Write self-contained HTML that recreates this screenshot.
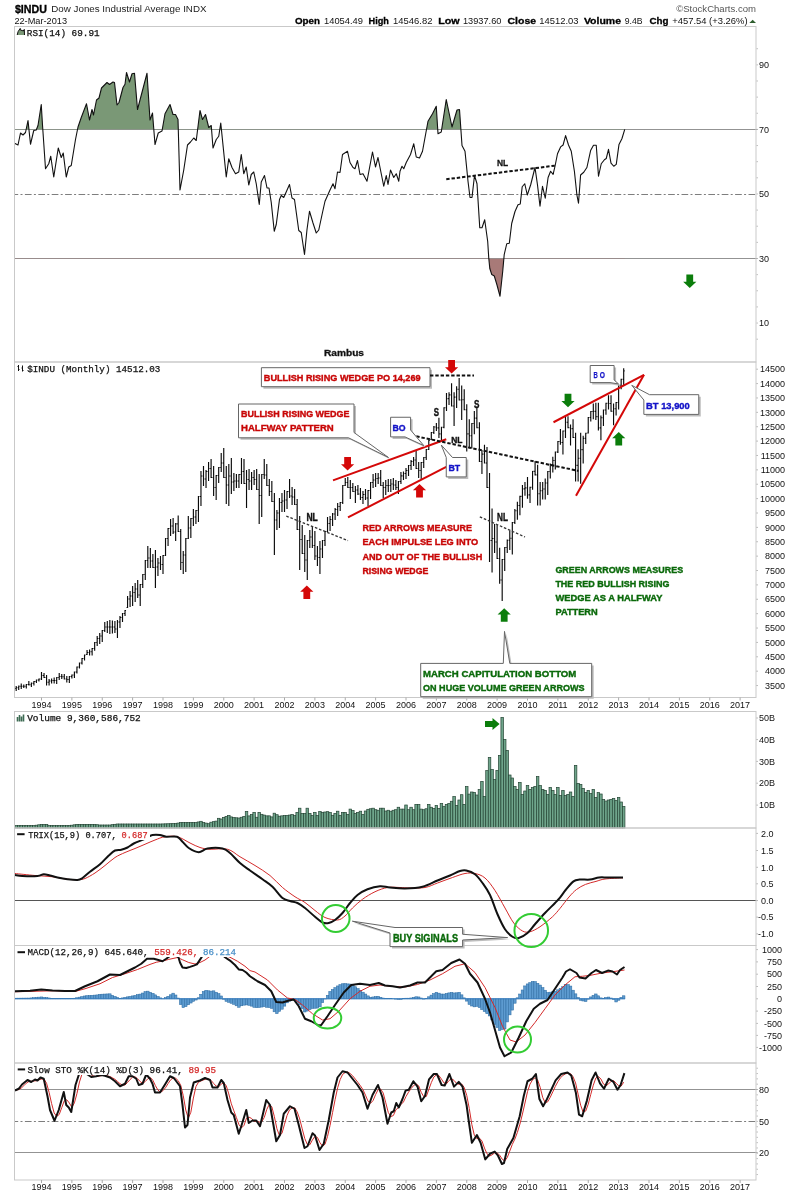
<!DOCTYPE html><html><head><meta charset="utf-8"><title>$INDU Dow Jones Industrial Average</title><style>html,body{margin:0;padding:0;background:#fff}svg{display:block}</style></head><body>
<svg width="800" height="1196" viewBox="0 0 800 1196">
<rect x="0" y="0" width="800" height="1196" fill="#fff"/>
<defs><clipPath id="cRsiTop"><rect x="15" y="26.5" width="741" height="102.9"/></clipPath><clipPath id="cRsiBot"><rect x="15" y="258.5" width="741" height="103"/></clipPath></defs>
<text x="14.9" y="13" style="font-family:'Liberation Sans',Arial,sans-serif;font-weight:bold;font-size:11.6px" stroke="#000" stroke-width="0.35" textLength="32" lengthAdjust="spacingAndGlyphs">$INDU</text>
<text x="51.3" y="12.3" style="font-family:'Liberation Sans',Arial,sans-serif;font-size:9.6px" fill="#222" textLength="155.2" lengthAdjust="spacingAndGlyphs">Dow Jones Industrial Average INDX</text>
<text x="14.4" y="23.7" style="font-family:'Liberation Sans',Arial,sans-serif;font-size:9px" fill="#111" textLength="52.6" lengthAdjust="spacingAndGlyphs">22-Mar-2013</text>
<text x="676.2" y="12.1" style="font-family:'Liberation Sans',Arial,sans-serif;font-size:9.5px" fill="#555" textLength="79.8" lengthAdjust="spacingAndGlyphs">&#169;StockCharts.com</text>
<text x="295" y="23.6" style="font-family:'Liberation Sans',Arial,sans-serif;font-weight:bold;font-size:9.4px" fill="#000" stroke="#000" stroke-width="0.3" textLength="25" lengthAdjust="spacingAndGlyphs">Open</text>
<text x="324" y="23.6" style="font-family:'Liberation Sans',Arial,sans-serif;font-size:8.8px" fill="#111" textLength="39" lengthAdjust="spacingAndGlyphs">14054.49</text>
<text x="368.6" y="23.6" style="font-family:'Liberation Sans',Arial,sans-serif;font-weight:bold;font-size:9.4px" fill="#000" stroke="#000" stroke-width="0.3" textLength="20.4" lengthAdjust="spacingAndGlyphs">High</text>
<text x="393" y="23.6" style="font-family:'Liberation Sans',Arial,sans-serif;font-size:8.8px" fill="#111" textLength="39.4" lengthAdjust="spacingAndGlyphs">14546.82</text>
<text x="438.25" y="23.6" style="font-family:'Liberation Sans',Arial,sans-serif;font-weight:bold;font-size:9.4px" fill="#000" stroke="#000" stroke-width="0.3" textLength="21.4" lengthAdjust="spacingAndGlyphs">Low</text>
<text x="463" y="23.6" style="font-family:'Liberation Sans',Arial,sans-serif;font-size:8.8px" fill="#111" textLength="38.4" lengthAdjust="spacingAndGlyphs">13937.60</text>
<text x="507.6" y="23.6" style="font-family:'Liberation Sans',Arial,sans-serif;font-weight:bold;font-size:9.4px" fill="#000" stroke="#000" stroke-width="0.3" textLength="28.4" lengthAdjust="spacingAndGlyphs">Close</text>
<text x="539.3" y="23.6" style="font-family:'Liberation Sans',Arial,sans-serif;font-size:8.8px" fill="#111" textLength="39.2" lengthAdjust="spacingAndGlyphs">14512.03</text>
<text x="583.9" y="23.6" style="font-family:'Liberation Sans',Arial,sans-serif;font-weight:bold;font-size:9.4px" fill="#000" stroke="#000" stroke-width="0.3" textLength="37.1" lengthAdjust="spacingAndGlyphs">Volume</text>
<text x="624.7" y="23.6" style="font-family:'Liberation Sans',Arial,sans-serif;font-size:8.8px" fill="#111" textLength="17.8" lengthAdjust="spacingAndGlyphs">9.4B</text>
<text x="649.5" y="23.6" style="font-family:'Liberation Sans',Arial,sans-serif;font-weight:bold;font-size:9.4px" fill="#000" stroke="#000" stroke-width="0.3" textLength="19" lengthAdjust="spacingAndGlyphs">Chg</text>
<text x="672.25" y="23.6" style="font-family:'Liberation Sans',Arial,sans-serif;font-size:8.8px" fill="#111" textLength="75.3" lengthAdjust="spacingAndGlyphs">+457.54 (+3.26%)</text>
<path d="M749.3,23 L752.65,19.7 L756,23 Z" fill="#2e5e2e"/>
<rect x="15" y="26.5" width="741" height="671" fill="#fff"/>
<line x1="15" y1="129.5" x2="757.5" y2="129.5" stroke="#939393" stroke-width="1"/>
<line x1="15" y1="194.5" x2="756" y2="194.5" stroke="#7e7e7e" stroke-width="1" stroke-dasharray="6.7,2.3,2,2.4" stroke-dashoffset="3.5"/>
<line x1="15" y1="258.5" x2="757.5" y2="258.5" stroke="#939393" stroke-width="1"/>
<polygon points="14.5,129.4 14.5,143.3 18,145 20.5,133 23,135 25.5,132.5 28,120.5 30.5,144.25 33.75,130.5 36.25,130 38,125.5 41.25,104.5 42.5,125 45.5,168.75 48.75,163.75 50.75,156.25 53.75,177 58.25,148 61.25,157.5 63.25,153 66.25,177 68.75,167 71.25,165.5 75.5,139.5 78,127 81.25,117.5 86.5,103.75 89.5,120 92,109.5 93.5,115 96.5,100 99,98 101.5,88 107,82.5 109.5,84.5 113,82 114.5,82.5 117,105 119,102.5 123,87.5 125,84.25 126.5,72.5 129.5,82 132,73.75 134.5,73.25 137.5,109.5 147,73.25 150,120 152.5,113 155,144.5 158.25,133 162,131 165,113.75 170,104.5 173,114.5 175.5,114.5 178,119.5 180,190 183.75,170 187.5,145 190.5,142 193.75,138 196.25,140.5 200,110.5 202.5,119.5 205.5,114.5 208.75,127.5 211.25,125.5 213,148 216.25,139.5 218.75,136.25 220.75,123 226.25,177 228.75,158.75 232,167.5 235.5,173.75 238.75,172 241.25,154.5 243.75,173.75 246.25,167 248.75,185 251.25,174.5 253.75,172 256.25,183.75 259.25,204.5 261.25,182 264.5,175.5 267,188 269,188 271.25,202.5 274.25,231.25 276.25,224.5 279.5,199.5 281.25,195.5 283.75,197.5 289.5,184.5 292,198 294.5,199.5 298.75,230.5 301.25,232.5 304.5,254.5 307,229.5 309.5,211.25 313,223 316.25,233 318.75,230 322.5,212.5 325,201.25 330,190 333,183.75 335,188.75 337.5,172 340,172.5 342.5,154.5 347.5,151.25 350,162.5 353,167.5 355,168.75 357.5,160.5 360,174.5 363,173.75 367,181.25 372.5,152 375.5,167 378,157.5 383.75,186.25 386.25,175.5 388,184.5 390.5,170 393.75,177.5 396.25,173.75 398.75,181.25 400,171.25 402,166.25 403.75,168.75 406.25,162.5 410.5,154.5 413.75,143.75 416.25,157 419.5,158 422.5,151.25 428,121.25 432.5,113.75 436.25,106.25 438,133.75 441.25,132 446.25,99.5 452,127 457,110 459.5,109.5 462,145.5 465,151.25 468,181.25 470,197.5 472,197.5 474.5,175.5 477,183.75 479.75,227.7 482,227.7 484.7,219.75 487.7,241.5 488.75,258 489.8,268.5 491.75,274.5 494.3,276 497,285 500,296.25 502.7,271.5 504.2,254.7 506.75,243.75 509.3,243.3 511.7,223.5 515,211.5 518,204.75 520.25,204 522.2,186.75 524.75,183.75 527.3,195 530.75,184.5 535,167.5 537.5,185 540,206.25 542.5,186.25 545.25,198.1 548.1,177.5 550.6,171.25 553.1,174.4 555,166.25 557.5,153.75 560.6,146.9 563.1,145 565.6,135.6 568.5,145 571.25,151.25 574.4,171.25 576.9,195 578.5,203.1 580.6,175 583.75,172.25 586.9,167.5 590.6,150.6 593.5,145.25 596.25,145.25 598.5,176.25 601.25,163.75 604.4,159.75 606.25,158.5 608.5,149.4 611,163.1 613.75,166.25 616.25,164.4 619,144.4 621.9,138.75 624.75,129.4 624.75,129.4" fill="#7a9876" clip-path="url(#cRsiTop)"/>
<polygon points="14.5,258.5 14.5,143.3 18,145 20.5,133 23,135 25.5,132.5 28,120.5 30.5,144.25 33.75,130.5 36.25,130 38,125.5 41.25,104.5 42.5,125 45.5,168.75 48.75,163.75 50.75,156.25 53.75,177 58.25,148 61.25,157.5 63.25,153 66.25,177 68.75,167 71.25,165.5 75.5,139.5 78,127 81.25,117.5 86.5,103.75 89.5,120 92,109.5 93.5,115 96.5,100 99,98 101.5,88 107,82.5 109.5,84.5 113,82 114.5,82.5 117,105 119,102.5 123,87.5 125,84.25 126.5,72.5 129.5,82 132,73.75 134.5,73.25 137.5,109.5 147,73.25 150,120 152.5,113 155,144.5 158.25,133 162,131 165,113.75 170,104.5 173,114.5 175.5,114.5 178,119.5 180,190 183.75,170 187.5,145 190.5,142 193.75,138 196.25,140.5 200,110.5 202.5,119.5 205.5,114.5 208.75,127.5 211.25,125.5 213,148 216.25,139.5 218.75,136.25 220.75,123 226.25,177 228.75,158.75 232,167.5 235.5,173.75 238.75,172 241.25,154.5 243.75,173.75 246.25,167 248.75,185 251.25,174.5 253.75,172 256.25,183.75 259.25,204.5 261.25,182 264.5,175.5 267,188 269,188 271.25,202.5 274.25,231.25 276.25,224.5 279.5,199.5 281.25,195.5 283.75,197.5 289.5,184.5 292,198 294.5,199.5 298.75,230.5 301.25,232.5 304.5,254.5 307,229.5 309.5,211.25 313,223 316.25,233 318.75,230 322.5,212.5 325,201.25 330,190 333,183.75 335,188.75 337.5,172 340,172.5 342.5,154.5 347.5,151.25 350,162.5 353,167.5 355,168.75 357.5,160.5 360,174.5 363,173.75 367,181.25 372.5,152 375.5,167 378,157.5 383.75,186.25 386.25,175.5 388,184.5 390.5,170 393.75,177.5 396.25,173.75 398.75,181.25 400,171.25 402,166.25 403.75,168.75 406.25,162.5 410.5,154.5 413.75,143.75 416.25,157 419.5,158 422.5,151.25 428,121.25 432.5,113.75 436.25,106.25 438,133.75 441.25,132 446.25,99.5 452,127 457,110 459.5,109.5 462,145.5 465,151.25 468,181.25 470,197.5 472,197.5 474.5,175.5 477,183.75 479.75,227.7 482,227.7 484.7,219.75 487.7,241.5 488.75,258 489.8,268.5 491.75,274.5 494.3,276 497,285 500,296.25 502.7,271.5 504.2,254.7 506.75,243.75 509.3,243.3 511.7,223.5 515,211.5 518,204.75 520.25,204 522.2,186.75 524.75,183.75 527.3,195 530.75,184.5 535,167.5 537.5,185 540,206.25 542.5,186.25 545.25,198.1 548.1,177.5 550.6,171.25 553.1,174.4 555,166.25 557.5,153.75 560.6,146.9 563.1,145 565.6,135.6 568.5,145 571.25,151.25 574.4,171.25 576.9,195 578.5,203.1 580.6,175 583.75,172.25 586.9,167.5 590.6,150.6 593.5,145.25 596.25,145.25 598.5,176.25 601.25,163.75 604.4,159.75 606.25,158.5 608.5,149.4 611,163.1 613.75,166.25 616.25,164.4 619,144.4 621.9,138.75 624.75,129.4 624.75,258.5" fill="#a87a78" clip-path="url(#cRsiBot)"/>
<polyline points="14.5,143.3 18,145 20.5,133 23,135 25.5,132.5 28,120.5 30.5,144.25 33.75,130.5 36.25,130 38,125.5 41.25,104.5 42.5,125 45.5,168.75 48.75,163.75 50.75,156.25 53.75,177 58.25,148 61.25,157.5 63.25,153 66.25,177 68.75,167 71.25,165.5 75.5,139.5 78,127 81.25,117.5 86.5,103.75 89.5,120 92,109.5 93.5,115 96.5,100 99,98 101.5,88 107,82.5 109.5,84.5 113,82 114.5,82.5 117,105 119,102.5 123,87.5 125,84.25 126.5,72.5 129.5,82 132,73.75 134.5,73.25 137.5,109.5 147,73.25 150,120 152.5,113 155,144.5 158.25,133 162,131 165,113.75 170,104.5 173,114.5 175.5,114.5 178,119.5 180,190 183.75,170 187.5,145 190.5,142 193.75,138 196.25,140.5 200,110.5 202.5,119.5 205.5,114.5 208.75,127.5 211.25,125.5 213,148 216.25,139.5 218.75,136.25 220.75,123 226.25,177 228.75,158.75 232,167.5 235.5,173.75 238.75,172 241.25,154.5 243.75,173.75 246.25,167 248.75,185 251.25,174.5 253.75,172 256.25,183.75 259.25,204.5 261.25,182 264.5,175.5 267,188 269,188 271.25,202.5 274.25,231.25 276.25,224.5 279.5,199.5 281.25,195.5 283.75,197.5 289.5,184.5 292,198 294.5,199.5 298.75,230.5 301.25,232.5 304.5,254.5 307,229.5 309.5,211.25 313,223 316.25,233 318.75,230 322.5,212.5 325,201.25 330,190 333,183.75 335,188.75 337.5,172 340,172.5 342.5,154.5 347.5,151.25 350,162.5 353,167.5 355,168.75 357.5,160.5 360,174.5 363,173.75 367,181.25 372.5,152 375.5,167 378,157.5 383.75,186.25 386.25,175.5 388,184.5 390.5,170 393.75,177.5 396.25,173.75 398.75,181.25 400,171.25 402,166.25 403.75,168.75 406.25,162.5 410.5,154.5 413.75,143.75 416.25,157 419.5,158 422.5,151.25 428,121.25 432.5,113.75 436.25,106.25 438,133.75 441.25,132 446.25,99.5 452,127 457,110 459.5,109.5 462,145.5 465,151.25 468,181.25 470,197.5 472,197.5 474.5,175.5 477,183.75 479.75,227.7 482,227.7 484.7,219.75 487.7,241.5 488.75,258 489.8,268.5 491.75,274.5 494.3,276 497,285 500,296.25 502.7,271.5 504.2,254.7 506.75,243.75 509.3,243.3 511.7,223.5 515,211.5 518,204.75 520.25,204 522.2,186.75 524.75,183.75 527.3,195 530.75,184.5 535,167.5 537.5,185 540,206.25 542.5,186.25 545.25,198.1 548.1,177.5 550.6,171.25 553.1,174.4 555,166.25 557.5,153.75 560.6,146.9 563.1,145 565.6,135.6 568.5,145 571.25,151.25 574.4,171.25 576.9,195 578.5,203.1 580.6,175 583.75,172.25 586.9,167.5 590.6,150.6 593.5,145.25 596.25,145.25 598.5,176.25 601.25,163.75 604.4,159.75 606.25,158.5 608.5,149.4 611,163.1 613.75,166.25 616.25,164.4 619,144.4 621.9,138.75 624.75,129.4" fill="none" stroke="#111" stroke-width="1.1" stroke-linejoin="round"/>
<text x="769" y="68.05" text-anchor="end" style="font-family:'Liberation Sans',Arial,sans-serif;font-size:9px" fill="#111">90</text>
<text x="769" y="132.6" text-anchor="end" style="font-family:'Liberation Sans',Arial,sans-serif;font-size:9px" fill="#111">70</text>
<text x="769" y="197.15" text-anchor="end" style="font-family:'Liberation Sans',Arial,sans-serif;font-size:9px" fill="#111">50</text>
<text x="769" y="261.7" text-anchor="end" style="font-family:'Liberation Sans',Arial,sans-serif;font-size:9px" fill="#111">30</text>
<text x="769" y="326.25" text-anchor="end" style="font-family:'Liberation Sans',Arial,sans-serif;font-size:9px" fill="#111">10</text>
<line x1="446.25" y1="179.25" x2="556.25" y2="165.5" stroke="#111" stroke-width="2" stroke-dasharray="3.4,1.9"/>
<text x="497" y="165.6" style="font-family:'Liberation Sans',Arial,sans-serif;font-weight:bold;font-size:9.8px" fill="#111" stroke="#111" stroke-width="0.3" textLength="11.2" lengthAdjust="spacingAndGlyphs">NL</text>
<text x="324" y="355.8" style="font-family:'Liberation Sans',Arial,sans-serif;font-weight:bold;font-size:9.2px" fill="#111" stroke="#111" stroke-width="0.3" textLength="40" lengthAdjust="spacingAndGlyphs">Rambus</text>
<path d="M16.19,686V691M15.19,688.5H16.19M16.19,687.75H17.19M18.72,685.5V690M17.72,687.75H18.72M18.72,686.25H19.72M21.25,683.5V689M20.25,686.25H21.25M21.25,686.25H22.25M23.78,684.5V688M22.78,686.25H23.78M23.78,686.25H24.78M26.31,684V688.5M25.31,686.25H26.31M26.31,684.5H27.31M28.84,681V685.5M27.84,684.5H28.84M28.84,684.75H29.84M31.38,682.5V687M30.38,684.75H31.38M31.38,683.25H32.38M33.91,681V685.5M32.91,683.25H33.91M33.91,681.5H34.91M36.44,679.5V683M35.44,681.5H36.44M36.44,680H37.44M38.97,678.5V681.5M37.97,680H38.97M38.97,679H39.97M41.5,672V680M40.5,679H41.5M41.5,675.5H42.5M44.03,673V678M43.03,675.5H44.03M44.03,677.5H45.03M46.56,675V685.5M45.56,677.5H46.56M46.56,682.25H47.56M49.09,679V685.5M48.09,682.25H49.09M49.09,681H50.09M51.62,678.5V683.5M50.62,681H51.62M51.62,680.5H52.62M54.16,677.5V683.5M53.16,680.5H54.16M54.16,680.5H55.16M56.69,677V684M55.69,680.5H56.69M56.69,677.5H57.69M59.22,673V680M58.22,677.5H59.22M59.22,676.5H60.22M61.75,674V679M60.75,676.5H61.75M61.75,676.75H62.75M64.28,674V679.5M63.28,676.75H64.28M64.28,679H65.28M66.81,676V682.5M65.81,679H66.81M66.81,679.5H67.81M69.34,676V683M68.34,679.5H69.34M69.34,676.5H70.34M71.88,674.5V678.5M70.88,676.5H71.88M71.88,675H72.88M74.41,671.5V678M73.41,675H74.41M74.41,672H75.41M76.94,666.5V673.5M75.94,672H76.94M76.94,667H77.94M79.47,662.5V668.5M78.47,667H79.47M79.47,663H80.47M82,658V664.5M81,663H82M82,658.5H83M84.53,654.5V660.5M83.53,658.5H84.53M84.53,655H85.53M87.06,650V655M86.06,654.5H87.06M87.06,652.5H88.06M89.59,649.5V655.5M88.59,652.5H89.59M89.59,651.75H90.59M92.12,648V655.5M91.12,651.75H92.12M92.12,648.5H93.12M94.66,642V650.75M93.66,648.5H94.66M94.66,642.5H95.66M97.19,636V646M96.19,642.5H97.19M97.19,638.5H98.19M99.72,633V644M98.72,638.5H99.72M99.72,636H100.72M102.25,630V642M101.25,636H102.25M102.25,630.5H103.25M104.78,622V632M103.78,630.5H104.78M104.78,627H105.78M107.31,621V633M106.31,627H107.31M107.31,627H108.31M109.84,620V634M108.84,627H109.84M109.84,627H110.84M112.38,620.5V633.5M111.38,627H112.38M112.38,627H113.38M114.91,621V633M113.91,627H114.91M114.91,629H115.91M117.44,620V638M116.44,629H117.44M117.44,622H118.44M119.97,616V628M118.97,622H119.97M119.97,617.5H120.97M122.5,613V622M121.5,617.5H122.5M122.5,613.5H123.5M125.03,610V616M124.03,613.5H125.03M125.03,610.5H126.03M127.56,596V608M126.56,607.5H127.56M127.56,599H128.56M130.09,591V607M129.09,599H130.09M130.09,596H131.09M132.62,586V606M131.62,596H132.62M132.62,592.5H133.62M135.16,583V602M134.16,592.5H135.16M135.16,589H136.16M137.69,580V598M136.69,589H137.69M137.69,595H138.69M140.22,584V606M139.22,595H140.22M140.22,584.5H141.22M142.75,574V588M141.75,584.5H142.75M142.75,574.5H143.75M145.28,560V580M144.28,574.5H145.28M145.28,560.5H146.28M147.81,546V568M146.81,560.5H147.81M147.81,558H148.81M150.34,548V568M149.34,558H150.34M150.34,561H151.34M152.88,554V568M151.88,561H152.88M152.88,567.5H153.88M155.41,550V588M154.41,567.5H155.41M155.41,567H156.41M157.94,558V576M156.94,567H157.94M157.94,563H158.94M160.47,556V570M159.47,563H160.47M160.47,564.5H161.47M163,555V574M162,564.5H163M163,555.5H164M165.53,538V556M164.53,555.5H165.53M165.53,538.5H166.53M168.06,528V546M167.06,538.5H168.06M168.06,528.5H169.06M170.59,519V536M169.59,528.5H170.59M170.59,526H171.59M173.12,518V534M172.12,526H173.12M173.12,532H174.12M175.66,523V541M174.66,532H175.66M175.66,523.8H176.66M178.19,515.6V532M177.19,523.8H178.19M178.19,531.5H179.19M180.72,529V570M179.72,531.5H180.72M180.72,562.5H181.72M183.25,551V574M182.25,562.5H183.25M183.25,555H184.25M185.78,538V572M184.78,555H185.78M185.78,538.5H186.78M188.31,516V539M187.31,538.5H188.31M188.31,528H189.31M190.84,518V538M189.84,528H190.84M190.84,518.5H191.84M193.38,509V526M192.38,518.5H193.38M193.38,517H194.38M195.91,510V524M194.91,517H195.91M195.91,510.5H196.91M198.44,496V522M197.44,510.5H198.44M198.44,496.5H199.44M200.97,471V506M199.97,496.5H200.97M200.97,476H201.97M203.5,466V486M202.5,476H203.5M203.5,479H204.5M206.03,470V488M205.03,479H206.03M206.03,471.5H207.03M208.56,462V481M207.56,471.5H208.56M208.56,468.5H209.56M211.09,459V478M210.09,468.5H211.09M211.09,477.5H212.09M213.62,466V496M212.62,477.5H213.62M213.62,487.5H214.62M216.16,475V500M215.16,487.5H216.16M216.16,475.5H217.16M218.69,467V483M217.69,475.5H218.69M218.69,467.5H219.69M221.22,453V472M220.22,467.5H221.22M221.22,463H222.22M223.75,448V478M222.75,463H223.75M223.75,477.5H224.75M226.28,466V504M225.28,477.5H226.28M226.28,485H227.28M228.81,464V506M227.81,485H228.81M228.81,476H229.81M231.34,458V494M230.34,476H231.34M231.34,482H232.34M233.88,473V491M232.88,482H233.88M233.88,481H234.88M236.41,474V488M235.41,481H236.41M236.41,481H237.41M238.94,474V488M237.94,481H238.94M238.94,474.5H239.94M241.47,458V484M240.47,474.5H241.47M241.47,471.5H242.47M244,459V484M243,471.5H244M244,483.5H245M246.53,470V508M245.53,483.5H246.53M246.53,479.5H247.53M249.06,469V490M248.06,479.5H249.06M249.06,481H250.06M251.59,472V490M250.59,481H251.59M251.59,477.5H252.59M254.12,470V485M253.12,477.5H254.12M254.12,479.5H255.12M256.66,469V490M255.66,479.5H256.66M256.66,489.5H257.66M259.19,474V524M258.19,489.5H259.19M259.19,495.5H260.19M261.72,474V517M260.72,495.5H261.72M261.72,474.5H262.72M264.25,459V479M263.25,474.5H264.25M264.25,475H265.25M266.78,464V486M265.78,475H266.78M266.78,485.5H267.78M269.31,479V496M268.31,485.5H269.31M269.31,491.5H270.31M271.84,481V502M270.84,491.5H271.84M271.84,501.5H272.84M274.38,493V555M273.38,501.5H274.38M274.38,520H275.38M276.91,510V530M275.91,520H276.91M276.91,513H277.91M279.44,498V528M278.44,513H279.44M279.44,502.5H280.44M281.97,493V512M280.97,502.5H281.97M281.97,501H282.97M284.5,490V512M283.5,501H284.5M284.5,500H285.5M287.03,491V509M286.03,500H287.03M287.03,491.5H288.03M289.56,479V498M288.56,491.5H289.56M289.56,496H290.56M292.09,487V505M291.09,496H292.09M292.09,497H293.09M294.62,489V505M293.62,497H294.62M294.62,504.5H295.62M297.16,499V530M296.16,504.5H297.16M297.16,529.5H298.16M299.69,516V570M298.69,529.5H299.69M299.69,539.5H300.69M302.22,525V554M301.22,539.5H302.22M302.22,553.5H303.22M304.75,535V572M303.75,553.5H304.75M304.75,560H305.75M307.28,540V580M306.28,560H307.28M307.28,540.5H308.28M309.81,530V548M308.81,540.5H309.81M309.81,537H310.81M312.34,526V548M311.34,537H312.34M312.34,545.5H313.34M314.88,531V560M313.88,545.5H314.88M314.88,556H315.88M317.41,546V566M316.41,556H317.41M317.41,557.5H318.41M319.94,541V574M318.94,557.5H319.94M319.94,549H320.94M322.47,540V558M321.47,549H322.47M322.47,540.5H323.47M325,531V546M324,540.5H325M325,531.5H326M327.53,517V532M326.53,531.5H327.53M327.53,523.5H328.53M330.06,516V531M329.06,523.5H330.06M330.06,519.5H331.06M332.59,513V526M331.59,519.5H332.59M332.59,514H333.59M335.12,508V520M334.12,514H335.12M335.12,509.5H336.12M337.66,503V516M336.66,509.5H337.66M337.66,506.5H338.66M340.19,502V511M339.19,506.5H340.19M340.19,502.5H341.19M342.72,485V504M341.72,502.5H342.72M342.72,485.5H343.72M345.25,478V486M344.25,485.5H345.25M345.25,482.5H346.25M347.78,477V488M346.78,482.5H347.78M347.78,487.5H348.78M350.31,480V499M349.31,487.5H350.31M350.31,487.5H351.31M352.84,483V492M351.84,487.5H352.84M352.84,491.5H353.84M355.38,486V503M354.38,491.5H355.38M355.38,490H356.38M357.91,485V495M356.91,490H357.91M357.91,494H358.91M360.44,488V500M359.44,494H360.44M360.44,497.5H361.44M362.97,491V504M361.97,497.5H362.97M362.97,494.5H363.97M365.5,489V500M364.5,494.5H365.5M365.5,498H366.5M368.03,490V506M367.03,498H368.03M368.03,490.5H369.03M370.56,482V499M369.56,490.5H370.56M370.56,482.5H371.56M373.09,474V488M372.09,482.5H373.09M373.09,480H374.09M375.62,473V487M374.62,480H375.62M375.62,478.5H376.62M378.16,473V484M377.16,478.5H378.16M378.16,478H379.16M380.69,470V486M379.69,478H380.69M380.69,485.5H381.69M383.22,482V498M382.22,485.5H383.22M383.22,487.5H384.22M385.75,480V495M384.75,487.5H385.75M385.75,485.5H386.75M388.28,479V492M387.28,485.5H388.28M388.28,485.5H389.28M390.81,479V492M389.81,485.5H390.81M390.81,484H391.81M393.34,478V490M392.34,484H393.34M393.34,485H394.34M395.88,480V490M394.88,485H395.88M395.88,487.5H396.88M398.41,481V494M397.41,487.5H398.41M398.41,481.5H399.41M400.94,472V484M399.94,481.5H400.94M400.94,475.8H401.94M403.47,471.6V480M402.47,475.8H403.47M403.47,473.5H404.47M406,468V479M405,473.5H406M406,470.5H407M408.53,465V476M407.53,470.5H408.53M408.53,465.5H409.53M411.06,460V470M410.06,465.5H411.06M411.06,461.5H412.06M413.59,457V466M412.59,461.5H413.59M413.59,460H414.59M416.12,451V469M415.12,460H416.12M416.12,468.5H417.12M418.66,462V478M417.66,468.5H418.66M418.66,470.5H419.66M421.19,462V479M420.19,470.5H421.19M421.19,462.5H422.19M423.72,457V468M422.72,462.5H423.72M423.72,457.5H424.72M426.25,449V460M425.25,457.5H426.25M426.25,449.5H427.25M428.78,440V450M427.78,449.5H428.78M428.78,440.5H429.78M431.31,432V440M430.31,439.5H431.31M431.31,432.5H432.31M433.84,426V434M432.84,432.5H433.84M433.84,427H434.84M436.38,423V431M435.38,427H436.38M436.38,427.88H437.38M438.91,417.75V438M437.91,427.88H438.91M438.91,433.88H439.91M441.44,426.75V441M440.44,433.88H441.44M441.44,427.25H442.44M443.97,407.25V428.25M442.97,427.25H443.97M443.97,407.75H444.97M446.5,393V411M445.5,407.75H446.5M446.5,398.62H447.5M449.03,392.25V405M448.03,398.62H449.03M449.03,394.88H450.03M451.56,383.25V406.5M450.56,394.88H451.56M451.56,406H452.56M454.09,392.25V426M453.09,406H454.09M454.09,397.12H455.09M456.62,386.25V408M455.62,397.12H456.62M456.62,389.25H457.62M459.16,378V400.5M458.16,389.25H459.16M459.16,400H460.16M461.69,385.5V420M460.69,400H461.69M461.69,399.75H462.69M464.22,389.25V410.25M463.22,399.75H464.22M464.22,409.75H465.22M466.75,404.25V451.5M465.75,409.75H466.75M466.75,433.88H467.75M469.28,419.25V448.5M468.28,433.88H469.28M469.28,435.75H470.28M471.81,423V448.5M470.81,435.75H471.81M471.81,423.5H472.81M474.34,411V434.25M473.34,423.5H474.34M474.34,418.12H475.34M476.88,408V428.25M475.88,418.12H476.88M476.88,427.75H477.88M479.41,422.25V462M478.41,427.75H479.41M479.41,461.5H480.41M481.94,450V474M480.94,461.5H481.94M481.94,454.12H482.94M484.47,444.75V463.5M483.47,454.12H484.47M484.47,463H485.47M487,447V488M486,463H487M487,487.5H488M489.53,473V562M488.53,487.5H489.53M489.53,540.5H490.53M492.06,508.5V572.5M491.06,540.5H492.06M492.06,538.5H493.06M494.59,524V553M493.59,538.5H494.59M494.59,542H495.59M497.12,525V559M496.12,542H497.12M497.12,558.5H498.12M499.66,547.7V583.8M498.66,558.5H499.66M499.66,580H500.66M502.19,559V601M501.19,580H502.19M502.19,559.5H503.19M504.72,547V571M503.72,559.5H504.72M504.72,547.5H505.72M507.25,539.4V553M506.25,547.5H507.25M507.25,540.2H508.25M509.78,530.4V550M508.78,540.2H509.78M509.78,538.25H510.78M512.31,522V554.5M511.31,538.25H512.31M512.31,522.5H513.31M514.84,509V524M513.84,522.5H514.84M514.84,510.75H515.84M517.38,501.7V519.8M516.38,510.75H517.38M517.38,505.5H518.38M519.91,495.7V515.3M518.91,505.5H519.91M519.91,496.4H520.91M522.44,485V507.8M521.44,496.4H522.44M522.44,488.85H523.44M524.97,482V495.7M523.97,488.85H524.97M524.97,487.85H525.97M527.5,477V498.7M526.5,487.85H527.5M527.5,494.85H528.5M530.03,486.7V503M529.03,494.85H530.03M530.03,487.2H531.03M532.56,470.9V489.7M531.56,487.2H532.56M532.56,471.4H533.56M535.09,461V475.4M534.09,471.4H535.09M535.09,474.9H536.09M537.62,464.8V505.5M536.62,474.9H537.62M537.62,493.75H538.62M540.16,482V505.5M539.16,493.75H540.16M540.16,490.75H541.16M542.69,482V499.5M541.69,490.75H542.69M542.69,489H543.69M545.22,478.5V499.5M544.22,489H545.22M545.22,483H546.22M547.75,471V495M546.75,483H547.75M547.75,471.5H548.75M550.28,463.5V478.5M549.28,471.5H550.28M550.28,464.62H551.28M552.81,456.75V472.5M551.81,464.62H552.81M552.81,460.5H553.81M555.34,451.5V469.5M554.34,460.5H555.34M555.34,452H556.34M557.88,441V453M556.88,452H557.88M557.88,441.5H558.88M560.41,429V444.75M559.41,441.5H560.41M560.41,442.5H561.41M562.94,430.5V454.5M561.94,442.5H562.94M562.94,431H563.94M565.47,416.25V438M564.47,431H565.47M565.47,422.25H566.47M568,416.25V428.25M567,422.25H568M568,427.75H569M570.53,424.5V445.5M569.53,427.75H570.53M570.53,428.62H571.53M573.06,419.25V438M572.06,428.62H573.06M573.06,437.5H574.06M575.59,432.75V481.5M574.59,437.5H575.59M575.59,465.38H576.59M578.12,449.25V481.5M577.12,465.38H578.12M578.12,458.25H579.12M580.66,432.75V483.75M579.66,458.25H580.66M580.66,449.62H581.66M583.19,435.75V463.5M582.19,449.62H583.19M583.19,438.38H584.19M585.72,432.75V444M584.72,438.38H585.72M585.72,433.25H586.72M588.25,417V433.5M587.25,433H588.25M588.25,417.5H589.25M590.78,411V421.5M589.78,417.5H590.78M590.78,411.5H591.78M593.31,403.5V419.25M592.31,411.5H593.31M593.31,411.38H594.31M595.84,402.75V420M594.84,411.38H595.84M595.84,416.62H596.84M598.38,402.75V430.5M597.38,416.62H598.38M598.38,427.88H599.38M600.91,415.5V440.25M599.91,427.88H600.91M600.91,417.75H601.91M603.44,409.5V426M602.44,417.75H603.44M603.44,410H604.44M605.97,402.75V414.75M604.97,410H605.97M605.97,403.25H606.97M608.5,395.25V409.5M607.5,403.25H608.5M608.5,403.5H609.5M611.03,395.25V411.75M610.03,403.5H611.03M611.03,411.25H612.03M613.56,403.5V425.25M612.56,411.25H613.56M613.56,408.75H614.56M616.09,402V415.5M615.09,408.75H616.09M616.09,402.5H617.09M618.62,384.75V409.5M617.62,402.5H618.62M618.62,385.25H619.62M621.16,378.75V389.25M620.16,385.25H621.16M621.16,379.25H622.16M623.69,368.25V385.5M622.69,379.25H623.69M623.69,370.84H624.69" stroke="#0a0a0a" stroke-width="1.15" fill="none"/>
<line x1="756" y1="685.56" x2="758" y2="685.56" stroke="#bbb"/>
<text x="785" y="688.76" text-anchor="end" style="font-family:'Liberation Sans',Arial,sans-serif;font-size:9px" fill="#111">3500</text>
<line x1="756" y1="671.18" x2="758" y2="671.18" stroke="#bbb"/>
<text x="785" y="674.38" text-anchor="end" style="font-family:'Liberation Sans',Arial,sans-serif;font-size:9px" fill="#111">4000</text>
<line x1="756" y1="656.8" x2="758" y2="656.8" stroke="#bbb"/>
<text x="785" y="660" text-anchor="end" style="font-family:'Liberation Sans',Arial,sans-serif;font-size:9px" fill="#111">4500</text>
<line x1="756" y1="642.42" x2="758" y2="642.42" stroke="#bbb"/>
<text x="785" y="645.62" text-anchor="end" style="font-family:'Liberation Sans',Arial,sans-serif;font-size:9px" fill="#111">5000</text>
<line x1="756" y1="628.04" x2="758" y2="628.04" stroke="#bbb"/>
<text x="785" y="631.24" text-anchor="end" style="font-family:'Liberation Sans',Arial,sans-serif;font-size:9px" fill="#111">5500</text>
<line x1="756" y1="613.66" x2="758" y2="613.66" stroke="#bbb"/>
<text x="785" y="616.86" text-anchor="end" style="font-family:'Liberation Sans',Arial,sans-serif;font-size:9px" fill="#111">6000</text>
<line x1="756" y1="599.28" x2="758" y2="599.28" stroke="#bbb"/>
<text x="785" y="602.48" text-anchor="end" style="font-family:'Liberation Sans',Arial,sans-serif;font-size:9px" fill="#111">6500</text>
<line x1="756" y1="584.9" x2="758" y2="584.9" stroke="#bbb"/>
<text x="785" y="588.1" text-anchor="end" style="font-family:'Liberation Sans',Arial,sans-serif;font-size:9px" fill="#111">7000</text>
<line x1="756" y1="570.52" x2="758" y2="570.52" stroke="#bbb"/>
<text x="785" y="573.72" text-anchor="end" style="font-family:'Liberation Sans',Arial,sans-serif;font-size:9px" fill="#111">7500</text>
<line x1="756" y1="556.14" x2="758" y2="556.14" stroke="#bbb"/>
<text x="785" y="559.34" text-anchor="end" style="font-family:'Liberation Sans',Arial,sans-serif;font-size:9px" fill="#111">8000</text>
<line x1="756" y1="541.76" x2="758" y2="541.76" stroke="#bbb"/>
<text x="785" y="544.96" text-anchor="end" style="font-family:'Liberation Sans',Arial,sans-serif;font-size:9px" fill="#111">8500</text>
<line x1="756" y1="527.38" x2="758" y2="527.38" stroke="#bbb"/>
<text x="785" y="530.58" text-anchor="end" style="font-family:'Liberation Sans',Arial,sans-serif;font-size:9px" fill="#111">9000</text>
<line x1="756" y1="513" x2="758" y2="513" stroke="#bbb"/>
<text x="785" y="516.2" text-anchor="end" style="font-family:'Liberation Sans',Arial,sans-serif;font-size:9px" fill="#111">9500</text>
<line x1="756" y1="498.62" x2="758" y2="498.62" stroke="#bbb"/>
<text x="785" y="501.82" text-anchor="end" style="font-family:'Liberation Sans',Arial,sans-serif;font-size:9px" fill="#111">10000</text>
<line x1="756" y1="484.24" x2="758" y2="484.24" stroke="#bbb"/>
<text x="785" y="487.44" text-anchor="end" style="font-family:'Liberation Sans',Arial,sans-serif;font-size:9px" fill="#111">10500</text>
<line x1="756" y1="469.86" x2="758" y2="469.86" stroke="#bbb"/>
<text x="785" y="473.06" text-anchor="end" style="font-family:'Liberation Sans',Arial,sans-serif;font-size:9px" fill="#111">11000</text>
<line x1="756" y1="455.48" x2="758" y2="455.48" stroke="#bbb"/>
<text x="785" y="458.68" text-anchor="end" style="font-family:'Liberation Sans',Arial,sans-serif;font-size:9px" fill="#111">11500</text>
<line x1="756" y1="441.1" x2="758" y2="441.1" stroke="#bbb"/>
<text x="785" y="444.3" text-anchor="end" style="font-family:'Liberation Sans',Arial,sans-serif;font-size:9px" fill="#111">12000</text>
<line x1="756" y1="426.72" x2="758" y2="426.72" stroke="#bbb"/>
<text x="785" y="429.92" text-anchor="end" style="font-family:'Liberation Sans',Arial,sans-serif;font-size:9px" fill="#111">12500</text>
<line x1="756" y1="412.34" x2="758" y2="412.34" stroke="#bbb"/>
<text x="785" y="415.54" text-anchor="end" style="font-family:'Liberation Sans',Arial,sans-serif;font-size:9px" fill="#111">13000</text>
<line x1="756" y1="397.96" x2="758" y2="397.96" stroke="#bbb"/>
<text x="785" y="401.16" text-anchor="end" style="font-family:'Liberation Sans',Arial,sans-serif;font-size:9px" fill="#111">13500</text>
<line x1="756" y1="383.58" x2="758" y2="383.58" stroke="#bbb"/>
<text x="785" y="386.78" text-anchor="end" style="font-family:'Liberation Sans',Arial,sans-serif;font-size:9px" fill="#111">14000</text>
<line x1="756" y1="369.2" x2="758" y2="369.2" stroke="#bbb"/>
<text x="785" y="372.4" text-anchor="end" style="font-family:'Liberation Sans',Arial,sans-serif;font-size:9px" fill="#111">14500</text>
<g fill="#6fa58b" stroke="#244434" stroke-width="0.7"><rect x="14.92" y="825.6" width="2.53" height="2.4"/><rect x="17.45" y="825.6" width="2.53" height="2.4"/><rect x="19.98" y="825.6" width="2.53" height="2.4"/><rect x="22.52" y="825.6" width="2.53" height="2.4"/><rect x="25.05" y="825.6" width="2.53" height="2.4"/><rect x="27.58" y="825.6" width="2.53" height="2.4"/><rect x="30.11" y="825.6" width="2.53" height="2.4"/><rect x="32.64" y="825.6" width="2.53" height="2.4"/><rect x="35.17" y="825.2" width="2.53" height="2.8"/><rect x="37.7" y="824.8" width="2.53" height="3.2"/><rect x="40.23" y="824.4" width="2.53" height="3.6"/><rect x="42.77" y="824.4" width="2.53" height="3.6"/><rect x="45.3" y="824.4" width="2.53" height="3.6"/><rect x="47.83" y="825.6" width="2.53" height="2.4"/><rect x="50.36" y="825.6" width="2.53" height="2.4"/><rect x="52.89" y="825.6" width="2.53" height="2.4"/><rect x="55.42" y="825.6" width="2.53" height="2.4"/><rect x="57.95" y="825.6" width="2.53" height="2.4"/><rect x="60.48" y="825.6" width="2.53" height="2.4"/><rect x="63.02" y="825.6" width="2.53" height="2.4"/><rect x="65.55" y="825.6" width="2.53" height="2.4"/><rect x="68.08" y="825.6" width="2.53" height="2.4"/><rect x="70.61" y="825.2" width="2.53" height="2.8"/><rect x="73.14" y="824.8" width="2.53" height="3.2"/><rect x="75.67" y="824.4" width="2.53" height="3.6"/><rect x="78.2" y="824.4" width="2.53" height="3.6"/><rect x="80.73" y="824.4" width="2.53" height="3.6"/><rect x="83.27" y="824.4" width="2.53" height="3.6"/><rect x="85.8" y="824.4" width="2.53" height="3.6"/><rect x="88.33" y="824.4" width="2.53" height="3.6"/><rect x="90.86" y="824.4" width="2.53" height="3.6"/><rect x="93.39" y="824.4" width="2.53" height="3.6"/><rect x="95.92" y="824.7" width="2.53" height="3.3"/><rect x="98.45" y="825" width="2.53" height="3"/><rect x="100.98" y="825" width="2.53" height="3"/><rect x="103.52" y="825" width="2.53" height="3"/><rect x="106.05" y="825" width="2.53" height="3"/><rect x="108.58" y="825" width="2.53" height="3"/><rect x="111.11" y="824.67" width="2.53" height="3.33"/><rect x="113.64" y="824.33" width="2.53" height="3.67"/><rect x="116.17" y="824" width="2.53" height="4"/><rect x="118.7" y="824" width="2.53" height="4"/><rect x="121.23" y="824" width="2.53" height="4"/><rect x="123.77" y="824" width="2.53" height="4"/><rect x="126.3" y="824" width="2.53" height="4"/><rect x="128.83" y="824" width="2.53" height="4"/><rect x="131.36" y="824" width="2.53" height="4"/><rect x="133.89" y="824" width="2.53" height="4"/><rect x="136.42" y="824" width="2.53" height="4"/><rect x="138.95" y="824" width="2.53" height="4"/><rect x="141.49" y="824" width="2.53" height="4"/><rect x="144.02" y="824" width="2.53" height="4"/><rect x="146.55" y="824" width="2.53" height="4"/><rect x="149.08" y="824" width="2.53" height="4"/><rect x="151.61" y="824" width="2.53" height="4"/><rect x="154.14" y="824" width="2.53" height="4"/><rect x="156.67" y="824" width="2.53" height="4"/><rect x="159.2" y="824" width="2.53" height="4"/><rect x="161.74" y="823.92" width="2.53" height="4.08"/><rect x="164.27" y="823.83" width="2.53" height="4.17"/><rect x="166.8" y="823.75" width="2.53" height="4.25"/><rect x="169.33" y="823.67" width="2.53" height="4.33"/><rect x="171.86" y="823.58" width="2.53" height="4.42"/><rect x="174.39" y="823.5" width="2.53" height="4.5"/><rect x="176.92" y="823.05" width="2.53" height="4.95"/><rect x="179.45" y="822.6" width="2.53" height="5.4"/><rect x="181.99" y="822.6" width="2.53" height="5.4"/><rect x="184.52" y="822.6" width="2.53" height="5.4"/><rect x="187.05" y="822.6" width="2.53" height="5.4"/><rect x="189.58" y="822.6" width="2.53" height="5.4"/><rect x="192.11" y="822.6" width="2.53" height="5.4"/><rect x="194.64" y="822.6" width="2.53" height="5.4"/><rect x="197.17" y="821.95" width="2.53" height="6.05"/><rect x="199.7" y="821.3" width="2.53" height="6.7"/><rect x="202.24" y="822.5" width="2.53" height="5.5"/><rect x="204.77" y="823.1" width="2.53" height="4.9"/><rect x="207.3" y="823.7" width="2.53" height="4.3"/><rect x="209.83" y="822.2" width="2.53" height="5.8"/><rect x="212.36" y="821.65" width="2.53" height="6.35"/><rect x="214.89" y="821.1" width="2.53" height="6.9"/><rect x="217.42" y="818.3" width="2.53" height="9.7"/><rect x="219.95" y="819" width="2.53" height="9"/><rect x="222.49" y="817.4" width="2.53" height="10.6"/><rect x="225.02" y="816.45" width="2.53" height="11.55"/><rect x="227.55" y="815.5" width="2.53" height="12.5"/><rect x="230.08" y="816.9" width="2.53" height="11.1"/><rect x="232.61" y="817.6" width="2.53" height="10.4"/><rect x="235.14" y="817.8" width="2.53" height="10.2"/><rect x="237.67" y="818" width="2.53" height="10"/><rect x="240.2" y="817.25" width="2.53" height="10.75"/><rect x="242.74" y="816.4" width="2.53" height="11.6"/><rect x="245.27" y="811.5" width="2.53" height="16.5"/><rect x="247.8" y="815.9" width="2.53" height="12.1"/><rect x="250.33" y="814.6" width="2.53" height="13.4"/><rect x="252.86" y="812.35" width="2.53" height="15.65"/><rect x="255.39" y="817.25" width="2.53" height="10.75"/><rect x="257.92" y="812.35" width="2.53" height="15.65"/><rect x="260.45" y="814.3" width="2.53" height="13.7"/><rect x="262.99" y="815.08" width="2.53" height="12.92"/><rect x="265.52" y="815.85" width="2.53" height="12.15"/><rect x="268.05" y="815.85" width="2.53" height="12.15"/><rect x="270.58" y="816.9" width="2.53" height="11.1"/><rect x="273.11" y="813.2" width="2.53" height="14.8"/><rect x="275.64" y="814.7" width="2.53" height="13.3"/><rect x="278.17" y="816.2" width="2.53" height="11.8"/><rect x="280.7" y="815.85" width="2.53" height="12.15"/><rect x="283.24" y="815.5" width="2.53" height="12.5"/><rect x="285.77" y="815.5" width="2.53" height="12.5"/><rect x="288.3" y="815.05" width="2.53" height="12.95"/><rect x="290.83" y="814.6" width="2.53" height="13.4"/><rect x="293.36" y="815.5" width="2.53" height="12.5"/><rect x="295.89" y="812.35" width="2.53" height="15.65"/><rect x="298.42" y="808.2" width="2.53" height="19.8"/><rect x="300.95" y="813.4" width="2.53" height="14.6"/><rect x="303.49" y="813.4" width="2.53" height="14.6"/><rect x="306.02" y="808.2" width="2.53" height="19.8"/><rect x="308.55" y="813.4" width="2.53" height="14.6"/><rect x="311.08" y="815.5" width="2.53" height="12.5"/><rect x="313.61" y="812.35" width="2.53" height="15.65"/><rect x="316.14" y="815.5" width="2.53" height="12.5"/><rect x="318.67" y="811.5" width="2.53" height="16.5"/><rect x="321.2" y="812.35" width="2.53" height="15.65"/><rect x="323.74" y="812" width="2.53" height="16"/><rect x="326.27" y="811.65" width="2.53" height="16.35"/><rect x="328.8" y="812.5" width="2.53" height="15.5"/><rect x="331.33" y="815.3" width="2.53" height="12.7"/><rect x="333.86" y="813.4" width="2.53" height="14.6"/><rect x="336.39" y="811.2" width="2.53" height="16.8"/><rect x="338.92" y="815.3" width="2.53" height="12.7"/><rect x="341.45" y="812.5" width="2.53" height="15.5"/><rect x="343.99" y="812.5" width="2.53" height="15.5"/><rect x="346.52" y="814.4" width="2.53" height="13.6"/><rect x="349.05" y="809.1" width="2.53" height="18.9"/><rect x="351.58" y="810.6" width="2.53" height="17.4"/><rect x="354.11" y="813.4" width="2.53" height="14.6"/><rect x="356.64" y="812.5" width="2.53" height="15.5"/><rect x="359.17" y="811.2" width="2.53" height="16.8"/><rect x="361.7" y="814.4" width="2.53" height="13.6"/><rect x="364.24" y="811" width="2.53" height="17"/><rect x="366.77" y="809.3" width="2.53" height="18.7"/><rect x="369.3" y="808.75" width="2.53" height="19.25"/><rect x="371.83" y="808.2" width="2.53" height="19.8"/><rect x="374.36" y="809.7" width="2.53" height="18.3"/><rect x="376.89" y="810.25" width="2.53" height="17.75"/><rect x="379.42" y="808.2" width="2.53" height="19.8"/><rect x="381.95" y="808.2" width="2.53" height="19.8"/><rect x="384.49" y="811" width="2.53" height="17"/><rect x="387.02" y="810.25" width="2.53" height="17.75"/><rect x="389.55" y="811.2" width="2.53" height="16.8"/><rect x="392.08" y="810.25" width="2.53" height="17.75"/><rect x="394.61" y="809.7" width="2.53" height="18.3"/><rect x="397.14" y="807.25" width="2.53" height="20.75"/><rect x="399.67" y="809.1" width="2.53" height="18.9"/><rect x="402.2" y="809.1" width="2.53" height="18.9"/><rect x="404.74" y="805" width="2.53" height="23"/><rect x="407.27" y="809.7" width="2.53" height="18.3"/><rect x="409.8" y="807.25" width="2.53" height="20.75"/><rect x="412.33" y="809.7" width="2.53" height="18.3"/><rect x="414.86" y="804.4" width="2.53" height="23.6"/><rect x="417.39" y="804.4" width="2.53" height="23.6"/><rect x="419.92" y="809.1" width="2.53" height="18.9"/><rect x="422.45" y="809.7" width="2.53" height="18.3"/><rect x="424.99" y="808.75" width="2.53" height="19.25"/><rect x="427.52" y="804.4" width="2.53" height="23.6"/><rect x="430.05" y="807.25" width="2.53" height="20.75"/><rect x="432.58" y="808.4" width="2.53" height="19.6"/><rect x="435.11" y="805.4" width="2.53" height="22.6"/><rect x="437.64" y="808.4" width="2.53" height="19.6"/><rect x="440.17" y="803.5" width="2.53" height="24.5"/><rect x="442.7" y="806.3" width="2.53" height="21.7"/><rect x="445.24" y="804.4" width="2.53" height="23.6"/><rect x="447.77" y="803.5" width="2.53" height="24.5"/><rect x="450.3" y="801.25" width="2.53" height="26.75"/><rect x="452.83" y="796.6" width="2.53" height="31.4"/><rect x="455.36" y="805.4" width="2.53" height="22.6"/><rect x="457.89" y="800" width="2.53" height="28"/><rect x="460.42" y="794.7" width="2.53" height="33.3"/><rect x="462.95" y="804.4" width="2.53" height="23.6"/><rect x="465.49" y="786.6" width="2.53" height="41.4"/><rect x="468.02" y="794.1" width="2.53" height="33.9"/><rect x="470.55" y="792" width="2.53" height="36"/><rect x="473.08" y="792.4" width="2.53" height="35.6"/><rect x="475.61" y="795" width="2.53" height="33"/><rect x="478.14" y="789.6" width="2.53" height="38.4"/><rect x="480.67" y="781.4" width="2.53" height="46.6"/><rect x="483.2" y="796.4" width="2.53" height="31.6"/><rect x="485.74" y="770.6" width="2.53" height="57.4"/><rect x="488.27" y="757.4" width="2.53" height="70.6"/><rect x="490.8" y="769.6" width="2.53" height="58.4"/><rect x="493.33" y="779.4" width="2.53" height="48.6"/><rect x="495.86" y="770.4" width="2.53" height="57.6"/><rect x="498.39" y="755.4" width="2.53" height="72.6"/><rect x="500.92" y="717.4" width="2.53" height="110.6"/><rect x="503.45" y="739.4" width="2.53" height="88.6"/><rect x="505.99" y="750.4" width="2.53" height="77.6"/><rect x="508.52" y="775" width="2.53" height="53"/><rect x="511.05" y="778" width="2.53" height="50"/><rect x="513.58" y="786.4" width="2.53" height="41.6"/><rect x="516.11" y="789.4" width="2.53" height="38.6"/><rect x="518.64" y="782.4" width="2.53" height="45.6"/><rect x="521.17" y="794.4" width="2.53" height="33.6"/><rect x="523.7" y="791" width="2.53" height="37"/><rect x="526.24" y="785.6" width="2.53" height="42.4"/><rect x="528.77" y="789.4" width="2.53" height="38.6"/><rect x="531.3" y="787.6" width="2.53" height="40.4"/><rect x="533.83" y="786.4" width="2.53" height="41.6"/><rect x="536.36" y="776.6" width="2.53" height="51.4"/><rect x="538.89" y="785.6" width="2.53" height="42.4"/><rect x="541.42" y="789.4" width="2.53" height="38.6"/><rect x="543.95" y="790.4" width="2.53" height="37.6"/><rect x="546.49" y="794.4" width="2.53" height="33.6"/><rect x="549.02" y="787.4" width="2.53" height="40.6"/><rect x="551.55" y="790.4" width="2.53" height="37.6"/><rect x="554.08" y="794.4" width="2.53" height="33.6"/><rect x="556.61" y="787.4" width="2.53" height="40.6"/><rect x="559.14" y="795.6" width="2.53" height="32.4"/><rect x="561.67" y="790.4" width="2.53" height="37.6"/><rect x="564.2" y="795.4" width="2.53" height="32.6"/><rect x="566.74" y="794.4" width="2.53" height="33.6"/><rect x="569.27" y="792" width="2.53" height="36"/><rect x="571.8" y="796.4" width="2.53" height="31.6"/><rect x="574.33" y="765.4" width="2.53" height="62.6"/><rect x="576.86" y="783.4" width="2.53" height="44.6"/><rect x="579.39" y="784.4" width="2.53" height="43.6"/><rect x="581.92" y="788.4" width="2.53" height="39.6"/><rect x="584.45" y="792.4" width="2.53" height="35.6"/><rect x="586.99" y="790.4" width="2.53" height="37.6"/><rect x="589.52" y="793.6" width="2.53" height="34.4"/><rect x="592.05" y="789.4" width="2.53" height="38.6"/><rect x="594.58" y="797.4" width="2.53" height="30.6"/><rect x="597.11" y="792.6" width="2.53" height="35.4"/><rect x="599.64" y="794" width="2.53" height="34"/><rect x="602.17" y="799.4" width="2.53" height="28.6"/><rect x="604.7" y="801" width="2.53" height="27"/><rect x="607.24" y="800" width="2.53" height="28"/><rect x="609.77" y="799.4" width="2.53" height="28.6"/><rect x="612.3" y="798.4" width="2.53" height="29.6"/><rect x="614.83" y="800.4" width="2.53" height="27.6"/><rect x="617.36" y="797.4" width="2.53" height="30.6"/><rect x="619.89" y="802" width="2.53" height="26"/><rect x="622.42" y="806.4" width="2.53" height="21.6"/></g>
<line x1="756" y1="718" x2="758" y2="718" stroke="#bbb"/>
<text x="775" y="721.2" text-anchor="end" style="font-family:'Liberation Sans',Arial,sans-serif;font-size:9px" fill="#111">50B</text>
<line x1="756" y1="739.6" x2="758" y2="739.6" stroke="#bbb"/>
<text x="775" y="742.8" text-anchor="end" style="font-family:'Liberation Sans',Arial,sans-serif;font-size:9px" fill="#111">40B</text>
<line x1="756" y1="761.4" x2="758" y2="761.4" stroke="#bbb"/>
<text x="775" y="764.6" text-anchor="end" style="font-family:'Liberation Sans',Arial,sans-serif;font-size:9px" fill="#111">30B</text>
<line x1="756" y1="783.2" x2="758" y2="783.2" stroke="#bbb"/>
<text x="775" y="786.4" text-anchor="end" style="font-family:'Liberation Sans',Arial,sans-serif;font-size:9px" fill="#111">20B</text>
<line x1="756" y1="805.1" x2="758" y2="805.1" stroke="#bbb"/>
<text x="775" y="808.3" text-anchor="end" style="font-family:'Liberation Sans',Arial,sans-serif;font-size:9px" fill="#111">10B</text>
<line x1="15" y1="900.5" x2="757.5" y2="900.5" stroke="#555" stroke-width="1"/>
<path d="M15,873.5C18.33,873.83 28.75,874.96 35,875.5C41.25,876.04 47.08,876.12 52.5,876.75C57.92,877.38 63.12,878.79 67.5,879.25C71.88,879.71 75.83,879.62 78.75,879.5C81.67,879.38 82.29,879.58 85,878.5C87.71,877.42 91.67,875.17 95,873C98.33,870.83 101.67,868.08 105,865.5C108.33,862.92 111.67,859.67 115,857.5C118.33,855.33 121.67,854 125,852.5C128.33,851 131.67,849.88 135,848.5C138.33,847.12 141.67,845.67 145,844.25C148.33,842.83 151.67,841.25 155,840C158.33,838.75 161.25,837.29 165,836.75C168.75,836.21 173.33,835.71 177.5,836.75C181.67,837.79 186.25,841.21 190,843C193.75,844.79 196.67,846.46 200,847.5C203.33,848.54 205.42,848.96 210,849.25C214.58,849.54 222.5,848 227.5,849.25C232.5,850.5 235.42,854.04 240,856.75C244.58,859.46 250,862.38 255,865.5C260,868.62 265.42,871.83 270,875.5C274.58,879.17 278.33,883.96 282.5,887.5C286.67,891.04 291.25,894.25 295,896.75C298.75,899.25 301.67,900.21 305,902.5C308.33,904.79 311.67,908 315,910.5C318.33,913 321.25,915.92 325,917.5C328.75,919.08 334.17,920.25 337.5,920C340.83,919.75 342.5,918 345,916C347.5,914 349.58,910.79 352.5,908C355.42,905.21 358.75,901.96 362.5,899.25C366.25,896.54 370.83,893.71 375,891.75C379.17,889.79 383.33,888.21 387.5,887.5C391.67,886.79 396.25,887.42 400,887.5C403.75,887.58 405.83,888 410,888C414.17,888 420.42,888.33 425,887.5C429.58,886.67 432.92,884.67 437.5,883C442.08,881.33 447.92,879.08 452.5,877.5C457.08,875.92 461.25,874.17 465,873.5C468.75,872.83 471.67,872.75 475,873.5C478.33,874.25 481.67,875.17 485,878C488.33,880.83 491.67,885.5 495,890.5C498.33,895.5 501.88,902.58 505,908C508.12,913.42 510.83,919.17 513.75,923C516.67,926.83 519.79,929.54 522.5,931C525.21,932.46 527.08,932.46 530,931.75C532.92,931.04 536.25,929.25 540,926.75C543.75,924.25 549.17,919.81 552.5,916.75C555.83,913.69 557.25,911.69 560,908.4C562.75,905.11 566.25,900.15 569,897C571.75,893.85 573.75,891.6 576.5,889.5C579.25,887.4 582.25,885.75 585.5,884.4C588.75,883.05 592.75,882.3 596,881.4C599.25,880.5 600.5,879.6 605,879C609.5,878.4 620,878 623,877.8" fill="none" stroke="#d42a2a" stroke-width="1"/>
<path d="M15,875C16.25,875.17 18.75,875.83 22.5,876C26.25,876.17 33.96,876.29 37.5,876C41.04,875.71 41.67,874.33 43.75,874.25C45.83,874.17 47.71,874.96 50,875.5C52.29,876.04 54.58,876.88 57.5,877.5C60.42,878.12 64.17,878.83 67.5,879.25C70.83,879.67 75,880.21 77.5,880C80,879.79 80.42,879.38 82.5,878C84.58,876.62 87.08,874.04 90,871.75C92.92,869.46 96.88,866.96 100,864.25C103.12,861.54 106.25,857.79 108.75,855.5C111.25,853.21 112.92,851.46 115,850.5C117.08,849.54 119.17,850.25 121.25,849.75C123.33,849.25 125.42,848.54 127.5,847.5C129.58,846.46 131.04,844.88 133.75,843.5C136.46,842.12 141.38,840.33 143.75,839.25C146.12,838.17 146.54,837.71 148,837C149.46,836.29 150.5,835.33 152.5,835C154.5,834.67 157.71,834.71 160,835C162.29,835.29 163.42,836.46 166.25,836.75C169.08,837.04 174.29,835.92 177,836.75C179.71,837.58 180.54,839.88 182.5,841.75C184.46,843.62 186.04,846.25 188.75,848C191.46,849.75 195.62,852.17 198.75,852.25C201.88,852.33 203.54,849.12 207.5,848.5C211.46,847.88 218.75,847.75 222.5,848.5C226.25,849.25 227.08,850.58 230,853C232.92,855.42 236.67,860.08 240,863C243.33,865.92 246.25,867.79 250,870.5C253.75,873.21 258.75,876.54 262.5,879.25C266.25,881.96 269.17,883.62 272.5,886.75C275.83,889.88 279.58,895.62 282.5,898C285.42,900.38 287.5,900.17 290,901C292.5,901.83 295,901.83 297.5,903C300,904.17 302.08,905.71 305,908C307.92,910.29 312.08,914.33 315,916.75C317.92,919.17 320.21,921.46 322.5,922.5C324.79,923.54 326.67,923.42 328.75,923C330.83,922.58 332.71,921.67 335,920C337.29,918.33 340,915.83 342.5,913C345,910.17 347.5,906 350,903C352.5,900 354.58,897.29 357.5,895C360.42,892.71 363.75,890.71 367.5,889.25C371.25,887.79 376.25,886.54 380,886.25C383.75,885.96 385.83,887.12 390,887.5C394.17,887.88 399.58,888.62 405,888.5C410.42,888.38 417.08,888.08 422.5,886.75C427.92,885.42 432.92,882.38 437.5,880.5C442.08,878.62 446.25,877.08 450,875.5C453.75,873.92 457.29,871.83 460,871C462.71,870.17 463.75,869.96 466.25,870.5C468.75,871.04 472.29,872.17 475,874.25C477.71,876.33 480,879.54 482.5,883C485,886.46 487.5,889.79 490,895C492.5,900.21 495,908.54 497.5,914.25C500,919.96 502.5,925.5 505,929.25C507.5,933 510.21,935.29 512.5,936.75C514.79,938.21 516.25,938.62 518.75,938C521.25,937.38 524.79,935.29 527.5,933C530.21,930.71 532.08,927.58 535,924.25C537.92,920.92 541.67,916.54 545,913C548.33,909.46 552.5,905.57 555,903C557.5,900.43 558.17,899.85 560,897.6C561.83,895.35 563.75,892.2 566,889.5C568.25,886.8 571.25,883.05 573.5,881.4C575.75,879.75 576.75,879.9 579.5,879.6C582.25,879.3 586.75,879.95 590,879.6C593.25,879.25 596,877.85 599,877.5C602,877.15 604,877.5 608,877.5C612,877.5 620.5,877.5 623,877.5" fill="none" stroke="#111" stroke-width="2"/>
<line x1="756" y1="833.4" x2="758" y2="833.4" stroke="#bbb"/>
<text x="773.6" y="836.6" text-anchor="end" style="font-family:'Liberation Sans',Arial,sans-serif;font-size:9px" fill="#111">2.0</text>
<line x1="756" y1="850.5" x2="758" y2="850.5" stroke="#bbb"/>
<text x="773.6" y="853.7" text-anchor="end" style="font-family:'Liberation Sans',Arial,sans-serif;font-size:9px" fill="#111">1.5</text>
<line x1="756" y1="867.3" x2="758" y2="867.3" stroke="#bbb"/>
<text x="773.6" y="870.5" text-anchor="end" style="font-family:'Liberation Sans',Arial,sans-serif;font-size:9px" fill="#111">1.0</text>
<line x1="756" y1="883.8" x2="758" y2="883.8" stroke="#bbb"/>
<text x="773.6" y="887" text-anchor="end" style="font-family:'Liberation Sans',Arial,sans-serif;font-size:9px" fill="#111">0.5</text>
<line x1="756" y1="900.6" x2="758" y2="900.6" stroke="#bbb"/>
<text x="773.6" y="903.8" text-anchor="end" style="font-family:'Liberation Sans',Arial,sans-serif;font-size:9px" fill="#111">0.0</text>
<line x1="756" y1="917.1" x2="758" y2="917.1" stroke="#bbb"/>
<text x="773.6" y="920.3" text-anchor="end" style="font-family:'Liberation Sans',Arial,sans-serif;font-size:9px" fill="#111">-0.5</text>
<line x1="756" y1="933.9" x2="758" y2="933.9" stroke="#bbb"/>
<text x="773.6" y="937.1" text-anchor="end" style="font-family:'Liberation Sans',Arial,sans-serif;font-size:9px" fill="#111">-1.0</text>
<g fill="#5d9bd0" stroke="#2f6ea5" stroke-width="0.55"><rect x="14.92" y="998.2" width="2.53" height="0.6"/><rect x="17.45" y="998.18" width="2.53" height="0.62"/><rect x="19.98" y="998.15" width="2.53" height="0.65"/><rect x="22.52" y="998.13" width="2.53" height="0.67"/><rect x="25.05" y="998.1" width="2.53" height="0.7"/><rect x="27.58" y="998.08" width="2.53" height="0.72"/><rect x="30.11" y="997.93" width="2.53" height="0.87"/><rect x="32.64" y="997.68" width="2.53" height="1.12"/><rect x="35.17" y="997.42" width="2.53" height="1.38"/><rect x="37.7" y="997.17" width="2.53" height="1.63"/><rect x="40.23" y="996.97" width="2.53" height="1.83"/><rect x="42.77" y="997.31" width="2.53" height="1.49"/><rect x="45.3" y="997.64" width="2.53" height="1.16"/><rect x="47.83" y="997.98" width="2.53" height="0.82"/><rect x="50.36" y="998.32" width="2.53" height="0.48"/><rect x="52.89" y="998.56" width="2.53" height="0.24"/><rect x="55.42" y="998.63" width="2.53" height="0.17"/><rect x="57.95" y="998.64" width="2.53" height="0.16"/><rect x="60.48" y="998.64" width="2.53" height="0.16"/><rect x="63.02" y="998.65" width="2.53" height="0.15"/><rect x="65.55" y="998.57" width="2.53" height="0.23"/><rect x="68.08" y="998.46" width="2.53" height="0.34"/><rect x="70.61" y="998.35" width="2.53" height="0.45"/><rect x="73.14" y="998.24" width="2.53" height="0.56"/><rect x="75.67" y="997.76" width="2.53" height="1.04"/><rect x="78.2" y="997.17" width="2.53" height="1.63"/><rect x="80.73" y="996.58" width="2.53" height="2.22"/><rect x="83.27" y="995.98" width="2.53" height="2.82"/><rect x="85.8" y="995.71" width="2.53" height="3.09"/><rect x="88.33" y="995.52" width="2.53" height="3.28"/><rect x="90.86" y="995.32" width="2.53" height="3.48"/><rect x="93.39" y="995.12" width="2.53" height="3.68"/><rect x="95.92" y="994.92" width="2.53" height="3.88"/><rect x="98.45" y="994.36" width="2.53" height="4.44"/><rect x="100.98" y="994.19" width="2.53" height="4.61"/><rect x="103.52" y="994.07" width="2.53" height="4.73"/><rect x="106.05" y="993.95" width="2.53" height="4.85"/><rect x="108.58" y="993.83" width="2.53" height="4.97"/><rect x="111.11" y="995.36" width="2.53" height="3.44"/><rect x="113.64" y="996.42" width="2.53" height="2.38"/><rect x="116.17" y="997.46" width="2.53" height="1.34"/><rect x="118.7" y="998.49" width="2.53" height="0.31"/><rect x="121.23" y="997.92" width="2.53" height="0.88"/><rect x="123.77" y="997.33" width="2.53" height="1.47"/><rect x="126.3" y="996.86" width="2.53" height="1.94"/><rect x="128.83" y="996.38" width="2.53" height="2.42"/><rect x="131.36" y="995.91" width="2.53" height="2.89"/><rect x="133.89" y="995.42" width="2.53" height="3.38"/><rect x="136.42" y="994.66" width="2.53" height="4.14"/><rect x="138.95" y="994.09" width="2.53" height="4.71"/><rect x="141.49" y="993.05" width="2.53" height="5.75"/><rect x="144.02" y="991.69" width="2.53" height="7.11"/><rect x="146.55" y="991.15" width="2.53" height="7.65"/><rect x="149.08" y="992.33" width="2.53" height="6.47"/><rect x="151.61" y="993.35" width="2.53" height="5.45"/><rect x="154.14" y="994.88" width="2.53" height="3.92"/><rect x="156.67" y="996.42" width="2.53" height="2.38"/><rect x="159.2" y="997.9" width="2.53" height="0.9"/><rect x="161.74" y="998.8" width="2.53" height="0.05"/><rect x="164.27" y="997.64" width="2.53" height="1.16"/><rect x="166.8" y="996.28" width="2.53" height="2.52"/><rect x="169.33" y="994.77" width="2.53" height="4.03"/><rect x="171.86" y="993.19" width="2.53" height="5.61"/><rect x="174.39" y="995" width="2.53" height="3.8"/><rect x="176.92" y="998.07" width="2.53" height="0.73"/><rect x="179.45" y="998.8" width="2.53" height="5.84"/><rect x="181.99" y="998.8" width="2.53" height="8.8"/><rect x="184.52" y="998.8" width="2.53" height="7.89"/><rect x="187.05" y="998.8" width="2.53" height="5.95"/><rect x="189.58" y="998.8" width="2.53" height="4.22"/><rect x="192.11" y="998.8" width="2.53" height="2.48"/><rect x="194.64" y="998.8" width="2.53" height="1.23"/><rect x="197.17" y="997.74" width="2.53" height="1.06"/><rect x="199.7" y="994.29" width="2.53" height="4.51"/><rect x="202.24" y="991.49" width="2.53" height="7.31"/><rect x="204.77" y="990.31" width="2.53" height="8.49"/><rect x="207.3" y="990.79" width="2.53" height="8.01"/><rect x="209.83" y="991.12" width="2.53" height="7.68"/><rect x="212.36" y="990.84" width="2.53" height="7.96"/><rect x="214.89" y="992.26" width="2.53" height="6.54"/><rect x="217.42" y="993.68" width="2.53" height="5.12"/><rect x="219.95" y="995.98" width="2.53" height="2.82"/><rect x="222.49" y="998.8" width="2.53" height="0.44"/><rect x="225.02" y="998.8" width="2.53" height="2.53"/><rect x="227.55" y="998.8" width="2.53" height="3.47"/><rect x="230.08" y="998.8" width="2.53" height="4.46"/><rect x="232.61" y="998.8" width="2.53" height="5.49"/><rect x="235.14" y="998.8" width="2.53" height="7"/><rect x="237.67" y="998.8" width="2.53" height="8.45"/><rect x="240.2" y="998.8" width="2.53" height="6.95"/><rect x="242.74" y="998.8" width="2.53" height="6.34"/><rect x="245.27" y="998.8" width="2.53" height="6.08"/><rect x="247.8" y="998.8" width="2.53" height="6.47"/><rect x="250.33" y="998.8" width="2.53" height="7.33"/><rect x="252.86" y="998.8" width="2.53" height="8.48"/><rect x="255.39" y="998.8" width="2.53" height="8.92"/><rect x="257.92" y="998.8" width="2.53" height="8.67"/><rect x="260.45" y="998.8" width="2.53" height="8.26"/><rect x="262.99" y="998.8" width="2.53" height="7.84"/><rect x="265.52" y="998.8" width="2.53" height="8.47"/><rect x="268.05" y="998.8" width="2.53" height="8.77"/><rect x="270.58" y="998.8" width="2.53" height="9.57"/><rect x="273.11" y="998.8" width="2.53" height="12.98"/><rect x="275.64" y="998.8" width="2.53" height="14.8"/><rect x="278.17" y="998.8" width="2.53" height="12.52"/><rect x="280.7" y="998.8" width="2.53" height="10.39"/><rect x="283.24" y="998.8" width="2.53" height="7.32"/><rect x="285.77" y="998.8" width="2.53" height="4.01"/><rect x="288.3" y="998.8" width="2.53" height="2.25"/><rect x="290.83" y="998.8" width="2.53" height="1.07"/><rect x="293.36" y="998.8" width="2.53" height="1.47"/><rect x="295.89" y="998.8" width="2.53" height="3.53"/><rect x="298.42" y="998.8" width="2.53" height="6.07"/><rect x="300.95" y="998.8" width="2.53" height="9.82"/><rect x="303.49" y="998.8" width="2.53" height="13.2"/><rect x="306.02" y="998.8" width="2.53" height="12.26"/><rect x="308.55" y="998.8" width="2.53" height="10.85"/><rect x="311.08" y="998.8" width="2.53" height="9.66"/><rect x="313.61" y="998.8" width="2.53" height="9.44"/><rect x="316.14" y="998.8" width="2.53" height="9.27"/><rect x="318.67" y="998.8" width="2.53" height="8.03"/><rect x="321.2" y="998.8" width="2.53" height="3.88"/><rect x="323.74" y="998.8" width="2.53" height="0.19"/><rect x="326.27" y="995.34" width="2.53" height="3.46"/><rect x="328.8" y="991.44" width="2.53" height="7.36"/><rect x="331.33" y="989.54" width="2.53" height="9.26"/><rect x="333.86" y="987.64" width="2.53" height="11.16"/><rect x="336.39" y="985.95" width="2.53" height="12.85"/><rect x="338.92" y="984.69" width="2.53" height="14.11"/><rect x="341.45" y="983.75" width="2.53" height="15.05"/><rect x="343.99" y="983.56" width="2.53" height="15.24"/><rect x="346.52" y="983.89" width="2.53" height="14.91"/><rect x="349.05" y="984.08" width="2.53" height="14.72"/><rect x="351.58" y="984.94" width="2.53" height="13.86"/><rect x="354.11" y="986.74" width="2.53" height="12.06"/><rect x="356.64" y="988.54" width="2.53" height="10.26"/><rect x="359.17" y="990.34" width="2.53" height="8.46"/><rect x="361.7" y="992.2" width="2.53" height="6.6"/><rect x="364.24" y="994.05" width="2.53" height="4.75"/><rect x="366.77" y="995.9" width="2.53" height="2.9"/><rect x="369.3" y="997.27" width="2.53" height="1.53"/><rect x="371.83" y="996.96" width="2.53" height="1.84"/><rect x="374.36" y="996.66" width="2.53" height="2.14"/><rect x="376.89" y="996.35" width="2.53" height="2.45"/><rect x="379.42" y="997.27" width="2.53" height="1.53"/><rect x="381.95" y="998.08" width="2.53" height="0.72"/><rect x="384.49" y="998.63" width="2.53" height="0.17"/><rect x="387.02" y="998.56" width="2.53" height="0.24"/><rect x="389.55" y="998.56" width="2.53" height="0.24"/><rect x="392.08" y="998.77" width="2.53" height="0.03"/><rect x="394.61" y="998.8" width="2.53" height="0.31"/><rect x="397.14" y="998.8" width="2.53" height="0.66"/><rect x="399.67" y="998.8" width="2.53" height="0.6"/><rect x="402.2" y="998.66" width="2.53" height="0.14"/><rect x="404.74" y="998.21" width="2.53" height="0.58"/><rect x="407.27" y="998.21" width="2.53" height="0.58"/><rect x="409.8" y="997.97" width="2.53" height="0.83"/><rect x="412.33" y="997.37" width="2.53" height="1.43"/><rect x="414.86" y="996.78" width="2.53" height="2.02"/><rect x="417.39" y="996.95" width="2.53" height="1.85"/><rect x="419.92" y="998.01" width="2.53" height="0.79"/><rect x="422.45" y="998.8" width="2.53" height="0.28"/><rect x="424.99" y="998.68" width="2.53" height="0.12"/><rect x="427.52" y="996.79" width="2.53" height="2.01"/><rect x="430.05" y="995.11" width="2.53" height="3.69"/><rect x="432.58" y="993.63" width="2.53" height="5.17"/><rect x="435.11" y="992.26" width="2.53" height="6.54"/><rect x="437.64" y="993.15" width="2.53" height="5.65"/><rect x="440.17" y="994.04" width="2.53" height="4.76"/><rect x="442.7" y="994.07" width="2.53" height="4.73"/><rect x="445.24" y="993.48" width="2.53" height="5.32"/><rect x="447.77" y="992.88" width="2.53" height="5.92"/><rect x="450.3" y="992.43" width="2.53" height="6.37"/><rect x="452.83" y="992.95" width="2.53" height="5.85"/><rect x="455.36" y="992.8" width="2.53" height="6"/><rect x="457.89" y="992.29" width="2.53" height="6.51"/><rect x="460.42" y="994.84" width="2.53" height="3.96"/><rect x="462.95" y="997.87" width="2.53" height="0.93"/><rect x="465.49" y="998.8" width="2.53" height="2.3"/><rect x="468.02" y="998.8" width="2.53" height="5.64"/><rect x="470.55" y="998.8" width="2.53" height="7.2"/><rect x="473.08" y="998.8" width="2.53" height="8.06"/><rect x="475.61" y="998.8" width="2.53" height="7.56"/><rect x="478.14" y="998.8" width="2.53" height="8.8"/><rect x="480.67" y="998.8" width="2.53" height="10.77"/><rect x="483.2" y="998.8" width="2.53" height="12.75"/><rect x="485.74" y="998.8" width="2.53" height="14.92"/><rect x="488.27" y="998.8" width="2.53" height="17.14"/><rect x="490.8" y="998.8" width="2.53" height="21.17"/><rect x="493.33" y="998.8" width="2.53" height="25.61"/><rect x="495.86" y="998.8" width="2.53" height="28.81"/><rect x="498.39" y="998.8" width="2.53" height="31.77"/><rect x="500.92" y="998.8" width="2.53" height="30.75"/><rect x="503.45" y="998.8" width="2.53" height="30.2"/><rect x="505.99" y="998.8" width="2.53" height="23.12"/><rect x="508.52" y="998.8" width="2.53" height="16.05"/><rect x="511.05" y="998.8" width="2.53" height="11.27"/><rect x="513.58" y="998.8" width="2.53" height="4.4"/><rect x="516.11" y="997.81" width="2.53" height="0.99"/><rect x="518.64" y="994.03" width="2.53" height="4.77"/><rect x="521.17" y="989.98" width="2.53" height="8.82"/><rect x="523.7" y="985.93" width="2.53" height="12.87"/><rect x="526.24" y="983.93" width="2.53" height="14.87"/><rect x="528.77" y="982.7" width="2.53" height="16.1"/><rect x="531.3" y="981.46" width="2.53" height="17.34"/><rect x="533.83" y="981.61" width="2.53" height="17.19"/><rect x="536.36" y="983.31" width="2.53" height="15.49"/><rect x="538.89" y="985.07" width="2.53" height="13.73"/><rect x="541.42" y="987.66" width="2.53" height="11.14"/><rect x="543.95" y="990.25" width="2.53" height="8.55"/><rect x="546.49" y="992.55" width="2.53" height="6.25"/><rect x="549.02" y="992.18" width="2.53" height="6.62"/><rect x="551.55" y="991.81" width="2.53" height="6.99"/><rect x="554.08" y="991.29" width="2.53" height="7.51"/><rect x="556.61" y="989.81" width="2.53" height="8.99"/><rect x="559.14" y="988.32" width="2.53" height="10.48"/><rect x="561.67" y="986.73" width="2.53" height="12.07"/><rect x="564.2" y="984.52" width="2.53" height="14.28"/><rect x="566.74" y="984.58" width="2.53" height="14.22"/><rect x="569.27" y="986.07" width="2.53" height="12.73"/><rect x="571.8" y="990.22" width="2.53" height="8.58"/><rect x="574.33" y="993.85" width="2.53" height="4.95"/><rect x="576.86" y="997.51" width="2.53" height="1.29"/><rect x="579.39" y="998.8" width="2.53" height="1.52"/><rect x="581.92" y="998.8" width="2.53" height="2.2"/><rect x="584.45" y="998.8" width="2.53" height="2.71"/><rect x="586.99" y="998.8" width="2.53" height="0.38"/><rect x="589.52" y="996.93" width="2.53" height="1.87"/><rect x="592.05" y="995.35" width="2.53" height="3.45"/><rect x="594.58" y="993.97" width="2.53" height="4.83"/><rect x="597.11" y="995.83" width="2.53" height="2.97"/><rect x="599.64" y="997.9" width="2.53" height="0.9"/><rect x="602.17" y="998.34" width="2.53" height="0.46"/><rect x="604.7" y="997.52" width="2.53" height="1.28"/><rect x="607.24" y="997.06" width="2.53" height="1.74"/><rect x="609.77" y="998.02" width="2.53" height="0.78"/><rect x="612.3" y="998.8" width="2.53" height="0.76"/><rect x="614.83" y="998.8" width="2.53" height="3.15"/><rect x="617.36" y="998.8" width="2.53" height="1.43"/><rect x="619.89" y="997.34" width="2.53" height="1.46"/><rect x="622.42" y="995.79" width="2.53" height="3.01"/></g>
<line x1="14.89" y1="998.8" x2="624.99" y2="998.8" stroke="#3b7fc0" stroke-width="1"/>
<polyline points="15,991.75 35,991.25 55,990.75 75,991.5 85,988.75 100,983.75 112.5,977.5 125,973.75 137.5,969.5 150,964.4 156.25,962.25 162.5,961 168.75,959.4 177.5,957.5 182.5,959.75 188.75,962.5 195,964 200,962.5 205,960 210,956.25 225,955.5 230,957.25 237.5,961.25 245,966.25 250,970.6 255,972 267.5,980 277.5,990 287.5,998 295,999.5 302.5,1005 312.5,1013.75 322.5,1020 330,1018.75 338.75,1011.25 350,998.75 360,991.25 370,986.25 380,985 390,986.25 405,987 417.5,984.5 430,980 442.5,973.75 455,966.25 465,963.75 475,972.5 485,987.5 495,1007.5 502.5,1026.25 510,1040 516.25,1042 525,1035 535,1022.5 545,1008.75 555,995 565,985 575,976.75 582.5,976.25 590,975.4 602,973 614,971.5 624.5,970" fill="none" stroke="#d42a2a" stroke-width="1" stroke-linejoin="round"/>
<polyline points="15,991.25 30,990.75 41.25,989.5 52.5,990.5 65,991 75,991 85,986.25 97.5,981.25 110,974.5 120,975 127.5,971.25 135,967.5 141.25,963.75 147,958.75 153.75,958.75 157.5,959.75 162.5,961.25 166.25,958.75 170,956 174,953 178.5,957.5 180,962.5 182.5,967.5 186.25,968 190,966.9 193.75,965.6 196.9,964.4 199.4,960.6 203,955 207,951 213,949 220,952 225,957.25 230,960.6 235,965 238.75,969.4 242.5,970 246.25,972.5 250,976.25 257.5,981.25 265,985 271.25,991.25 276.25,1002 282.5,1002.5 288.75,1000.5 293.75,999.5 298.75,1006.25 305,1018.75 311.25,1021.25 318.75,1025.5 321.25,1025 327.5,1016.25 335,1005 343.75,992.5 351.25,985 360,983.75 370,985 378.75,983 385,985.5 392.5,986.25 400,987.5 410,985.5 417.5,982.5 425,982.5 436.25,971.25 442.5,970 451.25,963 459.5,959.5 465,963.75 470,973.75 477.5,982.5 485,998.75 490,1012.5 495,1030 500,1047.5 504.5,1056.25 511.25,1052.5 518.75,1037.5 526.25,1021.25 533.75,1008.75 540,1003.75 547.5,1000 555,988.75 562.5,977.5 566,971.5 570,969.25 576.5,973 579.5,977.5 585.5,978.4 591.5,973 596,970 602,973 608,970.6 612.5,971.5 617,974.5 620,970 624.5,967" fill="none" stroke="#111" stroke-width="2" stroke-linejoin="round"/>
<line x1="756" y1="949.6" x2="758" y2="949.6" stroke="#bbb"/>
<text x="782" y="952.8" text-anchor="end" style="font-family:'Liberation Sans',Arial,sans-serif;font-size:9px" fill="#111">1000</text>
<line x1="756" y1="961.9" x2="758" y2="961.9" stroke="#bbb"/>
<text x="782" y="965.1" text-anchor="end" style="font-family:'Liberation Sans',Arial,sans-serif;font-size:9px" fill="#111">750</text>
<line x1="756" y1="974.2" x2="758" y2="974.2" stroke="#bbb"/>
<text x="782" y="977.4" text-anchor="end" style="font-family:'Liberation Sans',Arial,sans-serif;font-size:9px" fill="#111">500</text>
<line x1="756" y1="986.5" x2="758" y2="986.5" stroke="#bbb"/>
<text x="782" y="989.7" text-anchor="end" style="font-family:'Liberation Sans',Arial,sans-serif;font-size:9px" fill="#111">250</text>
<line x1="756" y1="998.8" x2="758" y2="998.8" stroke="#bbb"/>
<text x="782" y="1002" text-anchor="end" style="font-family:'Liberation Sans',Arial,sans-serif;font-size:9px" fill="#111">0</text>
<line x1="756" y1="1011.1" x2="758" y2="1011.1" stroke="#bbb"/>
<text x="782" y="1014.3" text-anchor="end" style="font-family:'Liberation Sans',Arial,sans-serif;font-size:9px" fill="#111">-250</text>
<line x1="756" y1="1023.4" x2="758" y2="1023.4" stroke="#bbb"/>
<text x="782" y="1026.6" text-anchor="end" style="font-family:'Liberation Sans',Arial,sans-serif;font-size:9px" fill="#111">-500</text>
<line x1="756" y1="1035.4" x2="758" y2="1035.4" stroke="#bbb"/>
<text x="782" y="1038.6" text-anchor="end" style="font-family:'Liberation Sans',Arial,sans-serif;font-size:9px" fill="#111">-750</text>
<line x1="756" y1="1047.4" x2="758" y2="1047.4" stroke="#bbb"/>
<text x="782" y="1050.6" text-anchor="end" style="font-family:'Liberation Sans',Arial,sans-serif;font-size:9px" fill="#111">-1000</text>
<line x1="15" y1="1089.5" x2="757.5" y2="1089.5" stroke="#939393" stroke-width="1"/>
<line x1="15" y1="1121.5" x2="756" y2="1121.5" stroke="#7e7e7e" stroke-width="1" stroke-dasharray="6.7,2.3,2,2.4" stroke-dashoffset="3.5"/>
<line x1="15" y1="1152.5" x2="757.5" y2="1152.5" stroke="#939393" stroke-width="1"/>
<polyline points="16.19,1089.95 18.72,1089.55 21.25,1088.06 23.78,1085.76 26.31,1083.16 28.84,1081.58 31.38,1081.2 33.91,1080.95 36.44,1080.74 38.97,1079.78 41.5,1079 44.03,1078.99 46.56,1083.27 49.09,1092.32 51.62,1103.59 54.16,1112.94 56.69,1116.34 59.22,1114.49 61.75,1107.58 64.28,1100.76 66.81,1099.84 69.34,1102.96 71.88,1107.39 74.41,1102.85 76.94,1093.52 79.47,1081.99 82,1074.01 84.53,1070.38 87.06,1070.47 89.59,1073.1 92.12,1075.49 94.66,1076.42 97.19,1076.46 99.72,1075.96 102.25,1075.53 104.78,1075.43 107.31,1075.82 109.84,1076.57 112.38,1077.76 114.91,1079.3 117.44,1081.38 119.97,1083.7 122.5,1084.97 125.03,1084.97 127.56,1082.44 130.09,1079.52 132.62,1077.07 135.16,1076.87 137.69,1078.9 140.22,1081.62 142.75,1083.33 145.28,1081.51 147.81,1078.76 150.34,1077.53 152.88,1080.26 155.41,1085.67 157.94,1090.02 160.47,1092.25 163,1090.65 165.53,1087.69 168.06,1083.59 170.59,1079.87 173.12,1077.89 175.66,1078.24 178.19,1080.67 180.72,1085.32 183.25,1095.74 185.78,1110.04 188.31,1118.18 190.84,1112.3 193.38,1098.06 195.91,1086.64 198.44,1082.25 200.97,1080.92 203.5,1079.91 206.03,1079.06 208.56,1078.86 211.09,1080.37 213.62,1083.4 216.16,1086.09 218.69,1086.71 221.22,1084.23 223.75,1082.73 226.28,1085.85 228.81,1093.95 231.34,1103.81 233.88,1110.81 236.41,1117.67 238.94,1124.54 241.47,1127.9 244,1125.35 246.53,1118.1 249.06,1117.19 251.59,1118.45 254.12,1121.47 256.66,1120.91 259.19,1122.21 261.72,1121.72 264.25,1117.48 266.78,1109.38 269.31,1104.4 271.84,1106.83 274.38,1116.72 276.91,1128.74 279.44,1135.49 281.97,1133.31 284.5,1124.21 287.03,1115.5 289.56,1109.81 292.09,1108 294.62,1107.81 297.16,1111.85 299.69,1118.96 302.22,1128.84 304.75,1138.49 307.28,1144.37 309.81,1144.82 312.34,1140.09 314.88,1136.43 317.41,1137.43 319.94,1142.67 322.47,1146.08 325,1144.27 327.53,1136.41 330.06,1125.46 332.59,1112.48 335.12,1099.55 337.66,1087.72 340.19,1079.48 342.72,1074.25 345.25,1072.46 347.78,1072.03 350.31,1073.6 352.84,1076.02 355.38,1079.18 357.91,1082.38 360.44,1085.79 362.97,1089.68 365.5,1095.23 368.03,1101.19 370.56,1103.29 373.09,1100.51 375.62,1094.52 378.16,1089.56 380.69,1089.07 383.22,1093.06 385.75,1102.77 388.28,1112.41 390.81,1116.59 393.34,1115.56 395.88,1109.83 398.41,1107.52 400.94,1104.55 403.47,1101.93 406,1096.47 408.53,1092.21 411.06,1088.58 413.59,1085.59 416.12,1083.94 418.66,1085.81 421.19,1092.31 423.72,1096.64 426.25,1096.54 428.78,1089.64 431.31,1082.63 433.84,1077.03 436.38,1074.92 438.91,1075.57 441.44,1079.11 443.97,1082.92 446.5,1083.75 449.03,1080.51 451.56,1078.66 454.09,1080.45 456.62,1083.48 459.16,1084.31 461.69,1084 464.22,1087.48 466.75,1095.47 469.28,1108.5 471.81,1124.42 474.34,1135.29 476.88,1138.74 479.41,1138.1 481.94,1140.95 484.47,1148.09 487,1153.78 489.53,1156.04 492.06,1154.83 494.59,1152.92 497.12,1152.98 499.66,1155.13 502.19,1159.2 504.72,1160.99 507.25,1157.54 509.78,1151.06 512.31,1144.42 514.84,1139.12 517.38,1132.41 519.91,1124.17 522.44,1114.02 524.97,1103 527.5,1091.67 530.03,1084.12 532.56,1079.81 535.09,1077.74 537.62,1079.88 540.16,1087.28 542.69,1097.41 545.22,1102.79 547.75,1101.74 550.28,1097.21 552.81,1091.85 555.34,1086.35 557.88,1081.66 560.41,1077.85 562.94,1075.43 565.47,1073.84 568,1073.17 570.53,1073.64 573.06,1076.74 575.59,1082.99 578.12,1094.16 580.66,1105.23 583.19,1112.33 585.72,1111 588.25,1104.09 590.78,1094.38 593.31,1085.19 595.84,1077.97 598.38,1076.48 600.91,1079.03 603.44,1083.99 605.97,1085.74 608.5,1083.96 611.03,1081.39 613.56,1080.59 616.09,1083.18 618.62,1085.74 621.16,1086.09 623.69,1082.19" fill="none" stroke="#d42a2a" stroke-width="1" stroke-linejoin="round"/>
<polyline points="15,1090.5 18.75,1088.75 22,1084.5 27.5,1080 31.25,1082 35,1079.5 37.5,1080.5 40.5,1077.5 43.75,1078.75 47.5,1096.25 50,1110 54.5,1120.75 58.75,1110 63.75,1092 66.25,1105 68.75,1107.5 71.25,1112 75.5,1085 78.75,1075 82,1068 85,1070 87.5,1074.5 91.25,1077 96.25,1076.25 101.25,1075 105,1075.75 110,1077.5 115,1081.25 120,1086.25 125,1083.75 128.75,1076.25 132.5,1076.25 136.25,1078.75 138.75,1085 142.5,1083.75 146.25,1074.5 150,1078.75 152.5,1083.75 155,1092.5 160,1092.5 165,1084.5 170,1076.25 173.75,1078 176.25,1081.25 180,1086.25 182.5,1105 185,1127.5 187.5,1125 190,1097.5 193.75,1082.5 197.5,1081.25 200,1080.5 205,1078 210,1080 212.5,1087.5 217.5,1087.5 221.25,1080 223.75,1083 227.5,1100 231.25,1112.5 233.75,1115 238.75,1133.75 241.25,1126.25 246.25,1110 248.75,1123 252.5,1120.5 256.25,1120.5 260,1126.25 266.25,1100 270,1105 276.25,1141.25 280,1135 283.75,1113.75 290,1106.25 294.5,1108.75 298.75,1125 304.5,1148 307.5,1146.25 312.5,1133.25 315,1135.5 319.5,1150 323.75,1143.75 328.75,1120 333.75,1092.5 337.5,1077.5 342.5,1071.25 347.5,1072.5 352.5,1078.75 357.5,1085 362.5,1092.5 367.5,1108.75 372.5,1095 378,1085 382.5,1097.5 387.5,1123.75 391.25,1112.5 393.75,1111.25 396.25,1103 398.75,1107.5 402.5,1099 405.6,1090.6 408.75,1089.7 413.4,1081.25 417.5,1086.6 421.25,1101.25 425,1096 429,1079.4 433.75,1074 436.9,1074 441.6,1085 444.7,1085.6 449.4,1074 454,1086.6 458.75,1081.9 462.5,1086.6 466.6,1105.3 468.75,1121 471.9,1142.8 476.9,1135 480.6,1142.8 485.3,1159.4 490,1153.75 494.7,1151.6 497.8,1155.3 501.9,1164 504,1163 507.2,1149 513.4,1138 519.7,1116.25 523.75,1096 527.5,1081.25 532.2,1078.75 535.9,1074 539.4,1099 543.1,1106.25 546.25,1100.6 555.6,1080.3 561.25,1074 567.5,1072.5 571.25,1075.6 575.9,1092.8 579,1114.7 582.2,1116.25 586.9,1100.6 591.6,1080.3 595.6,1072.5 600,1083.4 604,1088.75 608.75,1078.75 613.4,1081.9 617.5,1089.7 620.6,1085 624.4,1073.1" fill="none" stroke="#111" stroke-width="2" stroke-linejoin="round"/>
<text x="769" y="1092.7" text-anchor="end" style="font-family:'Liberation Sans',Arial,sans-serif;font-size:9px" fill="#111">80</text>
<text x="769" y="1124.6" text-anchor="end" style="font-family:'Liberation Sans',Arial,sans-serif;font-size:9px" fill="#111">50</text>
<text x="769" y="1155.8" text-anchor="end" style="font-family:'Liberation Sans',Arial,sans-serif;font-size:9px" fill="#111">20</text>
<rect x="14.5" y="26.5" width="741.5" height="335.5" fill="none" stroke="#c9c9c9" stroke-width="1"/>
<rect x="14.5" y="362" width="741.5" height="335.5" fill="none" stroke="#c9c9c9" stroke-width="1"/>
<rect x="14.5" y="711.5" width="741.5" height="116.5" fill="none" stroke="#c9c9c9" stroke-width="1"/>
<rect x="14.5" y="828" width="741.5" height="117.5" fill="none" stroke="#c9c9c9" stroke-width="1"/>
<rect x="14.5" y="945.5" width="741.5" height="117.5" fill="none" stroke="#c9c9c9" stroke-width="1"/>
<rect x="14.5" y="1063" width="741.5" height="117" fill="none" stroke="#c9c9c9" stroke-width="1"/>
<path d="M756.5,339.19H758M756.5,323.05H758M756.5,306.91H758M756.5,290.77H758M756.5,274.64H758M756.5,258.5H758M756.5,242.36H758M756.5,226.23H758M756.5,210.09H758M756.5,193.95H758M756.5,177.81H758M756.5,161.68H758M756.5,145.54H758M756.5,129.4H758M756.5,113.26H758M756.5,97.12H758M756.5,80.99H758M756.5,64.85H758M756.5,48.71H758M756.5,1174.56H758M756.5,1169.25H758M756.5,1163.93H758M756.5,1158.61H758M756.5,1153.3H758M756.5,1147.98H758M756.5,1142.66H758M756.5,1137.35H758M756.5,1132.03H758M756.5,1126.72H758M756.5,1121.4H758M756.5,1116.08H758M756.5,1110.77H758M756.5,1105.45H758M756.5,1100.13H758M756.5,1094.82H758M756.5,1089.5H758M756.5,1084.18H758M756.5,1078.87H758M756.5,1073.55H758M756.5,1068.23H758" stroke="#b0b0b0" stroke-width="0.8" fill="none"/>
<line x1="41.5" y1="697.5" x2="41.5" y2="700.5" stroke="#aaa"/>
<text x="41.5" y="707.6" text-anchor="middle" style="font-family:'Liberation Sans',Arial,sans-serif;font-size:9px" fill="#111">1994</text>
<line x1="41.5" y1="1180" x2="41.5" y2="1183" stroke="#aaa"/>
<text x="41.5" y="1190.4" text-anchor="middle" style="font-family:'Liberation Sans',Arial,sans-serif;font-size:9px" fill="#111">1994</text>
<line x1="71.88" y1="697.5" x2="71.88" y2="700.5" stroke="#aaa"/>
<text x="71.88" y="707.6" text-anchor="middle" style="font-family:'Liberation Sans',Arial,sans-serif;font-size:9px" fill="#111">1995</text>
<line x1="71.88" y1="1180" x2="71.88" y2="1183" stroke="#aaa"/>
<text x="71.88" y="1190.4" text-anchor="middle" style="font-family:'Liberation Sans',Arial,sans-serif;font-size:9px" fill="#111">1995</text>
<line x1="102.25" y1="697.5" x2="102.25" y2="700.5" stroke="#aaa"/>
<text x="102.25" y="707.6" text-anchor="middle" style="font-family:'Liberation Sans',Arial,sans-serif;font-size:9px" fill="#111">1996</text>
<line x1="102.25" y1="1180" x2="102.25" y2="1183" stroke="#aaa"/>
<text x="102.25" y="1190.4" text-anchor="middle" style="font-family:'Liberation Sans',Arial,sans-serif;font-size:9px" fill="#111">1996</text>
<line x1="132.62" y1="697.5" x2="132.62" y2="700.5" stroke="#aaa"/>
<text x="132.62" y="707.6" text-anchor="middle" style="font-family:'Liberation Sans',Arial,sans-serif;font-size:9px" fill="#111">1997</text>
<line x1="132.62" y1="1180" x2="132.62" y2="1183" stroke="#aaa"/>
<text x="132.62" y="1190.4" text-anchor="middle" style="font-family:'Liberation Sans',Arial,sans-serif;font-size:9px" fill="#111">1997</text>
<line x1="163" y1="697.5" x2="163" y2="700.5" stroke="#aaa"/>
<text x="163" y="707.6" text-anchor="middle" style="font-family:'Liberation Sans',Arial,sans-serif;font-size:9px" fill="#111">1998</text>
<line x1="163" y1="1180" x2="163" y2="1183" stroke="#aaa"/>
<text x="163" y="1190.4" text-anchor="middle" style="font-family:'Liberation Sans',Arial,sans-serif;font-size:9px" fill="#111">1998</text>
<line x1="193.38" y1="697.5" x2="193.38" y2="700.5" stroke="#aaa"/>
<text x="193.38" y="707.6" text-anchor="middle" style="font-family:'Liberation Sans',Arial,sans-serif;font-size:9px" fill="#111">1999</text>
<line x1="193.38" y1="1180" x2="193.38" y2="1183" stroke="#aaa"/>
<text x="193.38" y="1190.4" text-anchor="middle" style="font-family:'Liberation Sans',Arial,sans-serif;font-size:9px" fill="#111">1999</text>
<line x1="223.75" y1="697.5" x2="223.75" y2="700.5" stroke="#aaa"/>
<text x="223.75" y="707.6" text-anchor="middle" style="font-family:'Liberation Sans',Arial,sans-serif;font-size:9px" fill="#111">2000</text>
<line x1="223.75" y1="1180" x2="223.75" y2="1183" stroke="#aaa"/>
<text x="223.75" y="1190.4" text-anchor="middle" style="font-family:'Liberation Sans',Arial,sans-serif;font-size:9px" fill="#111">2000</text>
<line x1="254.12" y1="697.5" x2="254.12" y2="700.5" stroke="#aaa"/>
<text x="254.12" y="707.6" text-anchor="middle" style="font-family:'Liberation Sans',Arial,sans-serif;font-size:9px" fill="#111">2001</text>
<line x1="254.12" y1="1180" x2="254.12" y2="1183" stroke="#aaa"/>
<text x="254.12" y="1190.4" text-anchor="middle" style="font-family:'Liberation Sans',Arial,sans-serif;font-size:9px" fill="#111">2001</text>
<line x1="284.5" y1="697.5" x2="284.5" y2="700.5" stroke="#aaa"/>
<text x="284.5" y="707.6" text-anchor="middle" style="font-family:'Liberation Sans',Arial,sans-serif;font-size:9px" fill="#111">2002</text>
<line x1="284.5" y1="1180" x2="284.5" y2="1183" stroke="#aaa"/>
<text x="284.5" y="1190.4" text-anchor="middle" style="font-family:'Liberation Sans',Arial,sans-serif;font-size:9px" fill="#111">2002</text>
<line x1="314.88" y1="697.5" x2="314.88" y2="700.5" stroke="#aaa"/>
<text x="314.88" y="707.6" text-anchor="middle" style="font-family:'Liberation Sans',Arial,sans-serif;font-size:9px" fill="#111">2003</text>
<line x1="314.88" y1="1180" x2="314.88" y2="1183" stroke="#aaa"/>
<text x="314.88" y="1190.4" text-anchor="middle" style="font-family:'Liberation Sans',Arial,sans-serif;font-size:9px" fill="#111">2003</text>
<line x1="345.25" y1="697.5" x2="345.25" y2="700.5" stroke="#aaa"/>
<text x="345.25" y="707.6" text-anchor="middle" style="font-family:'Liberation Sans',Arial,sans-serif;font-size:9px" fill="#111">2004</text>
<line x1="345.25" y1="1180" x2="345.25" y2="1183" stroke="#aaa"/>
<text x="345.25" y="1190.4" text-anchor="middle" style="font-family:'Liberation Sans',Arial,sans-serif;font-size:9px" fill="#111">2004</text>
<line x1="375.62" y1="697.5" x2="375.62" y2="700.5" stroke="#aaa"/>
<text x="375.62" y="707.6" text-anchor="middle" style="font-family:'Liberation Sans',Arial,sans-serif;font-size:9px" fill="#111">2005</text>
<line x1="375.62" y1="1180" x2="375.62" y2="1183" stroke="#aaa"/>
<text x="375.62" y="1190.4" text-anchor="middle" style="font-family:'Liberation Sans',Arial,sans-serif;font-size:9px" fill="#111">2005</text>
<line x1="406" y1="697.5" x2="406" y2="700.5" stroke="#aaa"/>
<text x="406" y="707.6" text-anchor="middle" style="font-family:'Liberation Sans',Arial,sans-serif;font-size:9px" fill="#111">2006</text>
<line x1="406" y1="1180" x2="406" y2="1183" stroke="#aaa"/>
<text x="406" y="1190.4" text-anchor="middle" style="font-family:'Liberation Sans',Arial,sans-serif;font-size:9px" fill="#111">2006</text>
<line x1="436.38" y1="697.5" x2="436.38" y2="700.5" stroke="#aaa"/>
<text x="436.38" y="707.6" text-anchor="middle" style="font-family:'Liberation Sans',Arial,sans-serif;font-size:9px" fill="#111">2007</text>
<line x1="436.38" y1="1180" x2="436.38" y2="1183" stroke="#aaa"/>
<text x="436.38" y="1190.4" text-anchor="middle" style="font-family:'Liberation Sans',Arial,sans-serif;font-size:9px" fill="#111">2007</text>
<line x1="466.75" y1="697.5" x2="466.75" y2="700.5" stroke="#aaa"/>
<text x="466.75" y="707.6" text-anchor="middle" style="font-family:'Liberation Sans',Arial,sans-serif;font-size:9px" fill="#111">2008</text>
<line x1="466.75" y1="1180" x2="466.75" y2="1183" stroke="#aaa"/>
<text x="466.75" y="1190.4" text-anchor="middle" style="font-family:'Liberation Sans',Arial,sans-serif;font-size:9px" fill="#111">2008</text>
<line x1="497.12" y1="697.5" x2="497.12" y2="700.5" stroke="#aaa"/>
<text x="497.12" y="707.6" text-anchor="middle" style="font-family:'Liberation Sans',Arial,sans-serif;font-size:9px" fill="#111">2009</text>
<line x1="497.12" y1="1180" x2="497.12" y2="1183" stroke="#aaa"/>
<text x="497.12" y="1190.4" text-anchor="middle" style="font-family:'Liberation Sans',Arial,sans-serif;font-size:9px" fill="#111">2009</text>
<line x1="527.5" y1="697.5" x2="527.5" y2="700.5" stroke="#aaa"/>
<text x="527.5" y="707.6" text-anchor="middle" style="font-family:'Liberation Sans',Arial,sans-serif;font-size:9px" fill="#111">2010</text>
<line x1="527.5" y1="1180" x2="527.5" y2="1183" stroke="#aaa"/>
<text x="527.5" y="1190.4" text-anchor="middle" style="font-family:'Liberation Sans',Arial,sans-serif;font-size:9px" fill="#111">2010</text>
<line x1="557.88" y1="697.5" x2="557.88" y2="700.5" stroke="#aaa"/>
<text x="557.88" y="707.6" text-anchor="middle" style="font-family:'Liberation Sans',Arial,sans-serif;font-size:9px" fill="#111">2011</text>
<line x1="557.88" y1="1180" x2="557.88" y2="1183" stroke="#aaa"/>
<text x="557.88" y="1190.4" text-anchor="middle" style="font-family:'Liberation Sans',Arial,sans-serif;font-size:9px" fill="#111">2011</text>
<line x1="588.25" y1="697.5" x2="588.25" y2="700.5" stroke="#aaa"/>
<text x="588.25" y="707.6" text-anchor="middle" style="font-family:'Liberation Sans',Arial,sans-serif;font-size:9px" fill="#111">2012</text>
<line x1="588.25" y1="1180" x2="588.25" y2="1183" stroke="#aaa"/>
<text x="588.25" y="1190.4" text-anchor="middle" style="font-family:'Liberation Sans',Arial,sans-serif;font-size:9px" fill="#111">2012</text>
<line x1="618.62" y1="697.5" x2="618.62" y2="700.5" stroke="#aaa"/>
<text x="618.62" y="707.6" text-anchor="middle" style="font-family:'Liberation Sans',Arial,sans-serif;font-size:9px" fill="#111">2013</text>
<line x1="618.62" y1="1180" x2="618.62" y2="1183" stroke="#aaa"/>
<text x="618.62" y="1190.4" text-anchor="middle" style="font-family:'Liberation Sans',Arial,sans-serif;font-size:9px" fill="#111">2013</text>
<line x1="649" y1="697.5" x2="649" y2="700.5" stroke="#aaa"/>
<text x="649" y="707.6" text-anchor="middle" style="font-family:'Liberation Sans',Arial,sans-serif;font-size:9px" fill="#111">2014</text>
<line x1="649" y1="1180" x2="649" y2="1183" stroke="#aaa"/>
<text x="649" y="1190.4" text-anchor="middle" style="font-family:'Liberation Sans',Arial,sans-serif;font-size:9px" fill="#111">2014</text>
<line x1="679.38" y1="697.5" x2="679.38" y2="700.5" stroke="#aaa"/>
<text x="679.38" y="707.6" text-anchor="middle" style="font-family:'Liberation Sans',Arial,sans-serif;font-size:9px" fill="#111">2015</text>
<line x1="679.38" y1="1180" x2="679.38" y2="1183" stroke="#aaa"/>
<text x="679.38" y="1190.4" text-anchor="middle" style="font-family:'Liberation Sans',Arial,sans-serif;font-size:9px" fill="#111">2015</text>
<line x1="709.75" y1="697.5" x2="709.75" y2="700.5" stroke="#aaa"/>
<text x="709.75" y="707.6" text-anchor="middle" style="font-family:'Liberation Sans',Arial,sans-serif;font-size:9px" fill="#111">2016</text>
<line x1="709.75" y1="1180" x2="709.75" y2="1183" stroke="#aaa"/>
<text x="709.75" y="1190.4" text-anchor="middle" style="font-family:'Liberation Sans',Arial,sans-serif;font-size:9px" fill="#111">2016</text>
<line x1="740.12" y1="697.5" x2="740.12" y2="700.5" stroke="#aaa"/>
<text x="740.12" y="707.6" text-anchor="middle" style="font-family:'Liberation Sans',Arial,sans-serif;font-size:9px" fill="#111">2017</text>
<line x1="740.12" y1="1180" x2="740.12" y2="1183" stroke="#aaa"/>
<text x="740.12" y="1190.4" text-anchor="middle" style="font-family:'Liberation Sans',Arial,sans-serif;font-size:9px" fill="#111">2017</text>
<rect x="16" y="27.5" width="83" height="10" fill="#fff"/>
<path d="M17.2,35 L18.1,31.6 L20.2,28.4 L21.3,30.9 L22,30.1 L23,31.2 L24.3,29.4 L24.5,35 Z" fill="#7a9876"/>
<polyline points="17.2,35 18.1,31.6 20.2,28.4 21.3,30.9 22,30.1 23,31.2 24.3,29.4 24.5,35" fill="none" stroke="#111" stroke-width="1"/>
<text x="26.8" y="36" style="font-family:'Liberation Mono','DejaVu Sans Mono',monospace;font-size:9.1px" fill="#111" stroke="#111" stroke-width="0.25" textLength="72.8" lengthAdjust="spacingAndGlyphs">RSI(14) 69.91</text>
<rect x="16" y="363" width="144" height="11" fill="#fff"/>
<path d="M18.5,365 V371 M17.5,366.5 H18.5 M18.5,369.5 H19.5 M22.5,365.5 V371.5 M21.5,368 H22.5 M22.5,370.5 H23.5" stroke="#111" stroke-width="1" fill="none"/>
<text x="27.2" y="372" style="font-family:'Liberation Mono','DejaVu Sans Mono',monospace;font-size:9.1px" fill="#111" stroke="#111" stroke-width="0.25" textLength="133.2" lengthAdjust="spacingAndGlyphs">$INDU (Monthly) 14512.03</text>
<rect x="16" y="712.5" width="125" height="10.5" fill="#fff"/>
<path d="M17.5,721.5 V717 M19.5,721.5 V715 M21.5,721.5 V716.5 M23.5,721.5 V714.5" stroke="#3c6a52" stroke-width="1.6" fill="none"/>
<text x="27.2" y="721.3" style="font-family:'Liberation Mono','DejaVu Sans Mono',monospace;font-size:9.1px" fill="#111" stroke="#111" stroke-width="0.25" textLength="113.6" lengthAdjust="spacingAndGlyphs">Volume 9,360,586,752</text>
<rect x="16" y="829" width="134" height="11" fill="#fff"/>
<line x1="17.1" y1="834.2" x2="24.6" y2="834.2" stroke="#111" stroke-width="2"/>
<text x="28.2" y="838.3" style="font-family:'Liberation Mono','DejaVu Sans Mono',monospace;font-size:9.1px" fill="#111" stroke="#111" stroke-width="0.25" textLength="88.4" lengthAdjust="spacingAndGlyphs">TRIX(15,9) 0.707,</text>
<text x="121.6" y="838.3" style="font-family:'Liberation Mono','DejaVu Sans Mono',monospace;font-size:9.1px" fill="#d42a2a" stroke="#d42a2a" stroke-width="0.25" textLength="26" lengthAdjust="spacingAndGlyphs">0.687</text>
<rect x="16" y="946.5" width="221.5" height="10.5" fill="#fff"/>
<line x1="17.5" y1="952.2" x2="25" y2="952.2" stroke="#111" stroke-width="2"/>
<text x="27.6" y="954.8" style="font-family:'Liberation Mono','DejaVu Sans Mono',monospace;font-size:9.1px" fill="#111" stroke="#111" stroke-width="0.25" textLength="121" lengthAdjust="spacingAndGlyphs">MACD(12,26,9) 645.640,</text>
<text x="154.2" y="954.8" style="font-family:'Liberation Mono','DejaVu Sans Mono',monospace;font-size:9.1px" fill="#d42a2a" stroke="#d42a2a" stroke-width="0.25" textLength="44" lengthAdjust="spacingAndGlyphs">559.426,</text>
<text x="203.1" y="954.8" style="font-family:'Liberation Mono','DejaVu Sans Mono',monospace;font-size:9.1px" fill="#4a90c8" stroke="#4a90c8" stroke-width="0.25" textLength="33" lengthAdjust="spacingAndGlyphs">86.214</text>
<rect x="16" y="1064" width="201" height="11" fill="#fff"/>
<line x1="17.7" y1="1069.4" x2="25.1" y2="1069.4" stroke="#111" stroke-width="2"/>
<text x="27.5" y="1072.6" style="font-family:'Liberation Mono','DejaVu Sans Mono',monospace;font-size:9.1px" fill="#111" stroke="#111" stroke-width="0.25" textLength="155.4" lengthAdjust="spacingAndGlyphs">Slow STO %K(14) %D(3) 96.41,</text>
<text x="188.4" y="1072.6" style="font-family:'Liberation Mono','DejaVu Sans Mono',monospace;font-size:9.1px" fill="#d42a2a" stroke="#d42a2a" stroke-width="0.25" textLength="27.75" lengthAdjust="spacingAndGlyphs">89.95</text>
<polygon points="263.4,369.7 432,369.7 432,388.7 263.4,388.7" fill="#bdbdbd"/>
<polygon points="261.4,367.7 430,367.7 430,386.7 261.4,386.7" fill="#fff" stroke="#666" stroke-width="1"/>
<text x="263.8" y="380.5" style="font-family:'Liberation Sans',Arial,sans-serif;font-weight:bold;font-size:9.9px" fill="#c80606" stroke="#c80606" stroke-width="0.4" textLength="156.8" lengthAdjust="spacingAndGlyphs">BULLISH RISING WEDGE PO 14,269</text>
<line x1="430" y1="375.6" x2="474" y2="375.6" stroke="#111" stroke-width="2" stroke-dasharray="3.4,1.9"/>
<polygon points="240.5,406 356,406 356,434.5 390.5,459.5 350.5,439.8 240.5,439.8" fill="#bdbdbd"/>
<polygon points="238.5,404 354,404 354,432.5 388.5,457.5 348.5,437.8 238.5,437.8" fill="#fff" stroke="#666" stroke-width="1"/>
<text x="241" y="417.2" style="font-family:'Liberation Sans',Arial,sans-serif;font-weight:bold;font-size:9.9px" fill="#c80606" stroke="#c80606" stroke-width="0.4" textLength="108.4" lengthAdjust="spacingAndGlyphs">BULLISH RISING WEDGE</text>
<text x="241" y="431.1" style="font-family:'Liberation Sans',Arial,sans-serif;font-weight:bold;font-size:9.9px" fill="#c80606" stroke="#c80606" stroke-width="0.4" textLength="92.7" lengthAdjust="spacingAndGlyphs">HALFWAY PATTERN</text>
<line x1="333" y1="480.4" x2="446.25" y2="439.2" stroke="#d40808" stroke-width="2"/>
<line x1="348" y1="517.4" x2="446.25" y2="466.9" stroke="#d40808" stroke-width="2"/>
<line x1="553.5" y1="422.25" x2="644" y2="374.8" stroke="#d40808" stroke-width="2"/>
<line x1="576" y1="495.75" x2="644" y2="374.8" stroke="#d40808" stroke-width="2"/>
<line x1="416.25" y1="436.3" x2="578.4" y2="470.9" stroke="#111" stroke-width="2" stroke-dasharray="3.4,1.9"/>
<line x1="286.3" y1="516.1" x2="348" y2="540.6" stroke="#333" stroke-width="1.3" stroke-dasharray="2.6,1.8"/>
<line x1="479.8" y1="516.8" x2="525" y2="537" stroke="#333" stroke-width="1.3" stroke-dasharray="2.6,1.8"/>
<polygon points="392.6,419.25 412.6,419.25 412.6,432 425.75,447.6 407,438.9 392.6,438.9" fill="#bdbdbd"/>
<polygon points="390.6,417.25 410.6,417.25 410.6,430 423.75,445.6 405,436.9 390.6,436.9" fill="#fff" stroke="#666" stroke-width="1"/>
<text x="392.5" y="430.6" style="font-family:'Liberation Sans',Arial,sans-serif;font-weight:bold;font-size:9.9px" fill="#1414c8" stroke="#1414c8" stroke-width="0.4" textLength="13.1" lengthAdjust="spacingAndGlyphs">BO</text>
<polygon points="448.25,459.5 443.25,447 454.5,459.5 468.25,459.5 468.25,478.9 448.25,478.9" fill="#bdbdbd"/>
<polygon points="446.25,457.5 441.25,445 452.5,457.5 466.25,457.5 466.25,476.9 446.25,476.9" fill="#fff" stroke="#666" stroke-width="1"/>
<text x="448.5" y="470.6" style="font-family:'Liberation Sans',Arial,sans-serif;font-weight:bold;font-size:9.9px" fill="#1414c8" stroke="#1414c8" stroke-width="0.4" textLength="11.75" lengthAdjust="spacingAndGlyphs">BT</text>
<text x="433.75" y="415.6" style="font-family:'Liberation Sans',Arial,sans-serif;font-weight:bold;font-size:10px" fill="#111" stroke="#111" stroke-width="0.4" textLength="5.25" lengthAdjust="spacingAndGlyphs">S</text>
<text x="474" y="407.5" style="font-family:'Liberation Sans',Arial,sans-serif;font-weight:bold;font-size:10px" fill="#111" stroke="#111" stroke-width="0.4" textLength="5.4" lengthAdjust="spacingAndGlyphs">S</text>
<text x="451.25" y="443.1" style="font-family:'Liberation Sans',Arial,sans-serif;font-weight:bold;font-size:9.5px" fill="#111" stroke="#111" stroke-width="0.4" textLength="11.25" lengthAdjust="spacingAndGlyphs">NL</text>
<text x="306.4" y="521.4" style="font-family:'Liberation Sans',Arial,sans-serif;font-weight:bold;font-size:10.3px" fill="#111" stroke="#111" stroke-width="0.4" textLength="11.4" lengthAdjust="spacingAndGlyphs">NL</text>
<text x="497.1" y="521.4" style="font-family:'Liberation Sans',Arial,sans-serif;font-weight:bold;font-size:10.3px" fill="#111" stroke="#111" stroke-width="0.4" textLength="10.9" lengthAdjust="spacingAndGlyphs">NL</text>
<polygon points="592.2,367.5 616.1,367.5 616.1,382 620.5,385.9 612,384.6 592.2,384.6" fill="#bdbdbd"/>
<polygon points="590.2,365.5 614.1,365.5 614.1,380 618.5,383.9 610,382.6 590.2,382.6" fill="#fff" stroke="#666" stroke-width="1"/>
<text x="593.5" y="377.8" style="font-family:'Liberation Sans',Arial,sans-serif;font-weight:bold;font-size:9.5px" fill="#1414c8" stroke="#1414c8" stroke-width="0.25" textLength="4.3" lengthAdjust="spacingAndGlyphs">B</text>
<text x="599.7" y="377.8" style="font-family:'Liberation Sans',Arial,sans-serif;font-weight:bold;font-size:9.5px" fill="#1414c8" stroke="#1414c8" stroke-width="0.25" textLength="5.2" lengthAdjust="spacingAndGlyphs">O</text>
<polygon points="645.85,402 633.8,387.35 651.5,396.7 700.75,396.7 700.75,416.4 645.85,416.4" fill="#bdbdbd"/>
<polygon points="643.85,400 631.8,385.35 649.5,394.7 698.75,394.7 698.75,414.4 643.85,414.4" fill="#fff" stroke="#666" stroke-width="1"/>
<text x="646.1" y="408.5" style="font-family:'Liberation Sans',Arial,sans-serif;font-weight:bold;font-size:9.9px" fill="#1414c8" stroke="#1414c8" stroke-width="0.4" textLength="43.65" lengthAdjust="spacingAndGlyphs">BT 13,900</text>
<polygon points="448.2,360 455,360 455,367.25 458.2,367.25 451.6,373.5 445,367.25 448.2,367.25" fill="#d40808"/>
<polygon points="344.2,457 351,457 351,464.25 354.2,464.25 347.6,470.5 341,464.25 344.2,464.25" fill="#d40808"/>
<polygon points="419.5,484 426.1,490.25 422.9,490.25 422.9,497.5 416.1,497.5 416.1,490.25 412.9,490.25" fill="#d40808"/>
<polygon points="306.8,585.5 313.4,591.75 310.2,591.75 310.2,599 303.4,599 303.4,591.75 300.2,591.75" fill="#d40808"/>
<polygon points="564.6,393.75 571.4,393.75 571.4,401 574.6,401 568,407.25 561.4,401 564.6,401" fill="#0b7d0b"/>
<polygon points="618.75,432 625.35,438.25 622.15,438.25 622.15,445.5 615.35,445.5 615.35,438.25 612.15,438.25" fill="#0b7d0b"/>
<polygon points="504.2,608.3 510.8,614.55 507.6,614.55 507.6,621.8 500.8,621.8 500.8,614.55 497.6,614.55" fill="#0b7d0b"/>
<polygon points="686.35,274.6 693.15,274.6 693.15,281.85 696.35,281.85 689.75,288.1 683.15,281.85 686.35,281.85" fill="#0b7d0b"/>
<polygon points="485,721 492.5,721 492.5,718 499.6,724 492.5,730 492.5,727 485,727" fill="#0b7d0b"/>
<text x="362.4" y="531" style="font-family:'Liberation Sans',Arial,sans-serif;font-weight:bold;font-size:9.9px" fill="#c80606" stroke="#c80606" stroke-width="0.4" textLength="109.7" lengthAdjust="spacingAndGlyphs">RED ARROWS MEASURE</text>
<text x="362.4" y="545.38" style="font-family:'Liberation Sans',Arial,sans-serif;font-weight:bold;font-size:9.9px" fill="#c80606" stroke="#c80606" stroke-width="0.4" textLength="115.85" lengthAdjust="spacingAndGlyphs">EACH IMPULSE LEG INTO</text>
<text x="362.4" y="559.76" style="font-family:'Liberation Sans',Arial,sans-serif;font-weight:bold;font-size:9.9px" fill="#c80606" stroke="#c80606" stroke-width="0.4" textLength="119.85" lengthAdjust="spacingAndGlyphs">AND OUT OF THE BULLISH</text>
<text x="362.4" y="574.14" style="font-family:'Liberation Sans',Arial,sans-serif;font-weight:bold;font-size:9.9px" fill="#c80606" stroke="#c80606" stroke-width="0.4" textLength="66" lengthAdjust="spacingAndGlyphs">RISING WEDGE</text>
<text x="555.4" y="572.9" style="font-family:'Liberation Sans',Arial,sans-serif;font-weight:bold;font-size:9.9px" fill="#0a690a" stroke="#0a690a" stroke-width="0.4" textLength="127.7" lengthAdjust="spacingAndGlyphs">GREEN ARROWS MEASURES</text>
<text x="555.4" y="587.05" style="font-family:'Liberation Sans',Arial,sans-serif;font-weight:bold;font-size:9.9px" fill="#0a690a" stroke="#0a690a" stroke-width="0.4" textLength="114.1" lengthAdjust="spacingAndGlyphs">THE RED BULLISH RISING</text>
<text x="555.4" y="601.2" style="font-family:'Liberation Sans',Arial,sans-serif;font-weight:bold;font-size:9.9px" fill="#0a690a" stroke="#0a690a" stroke-width="0.4" textLength="107.1" lengthAdjust="spacingAndGlyphs">WEDGE AS A HALFWAY</text>
<text x="555.4" y="615.35" style="font-family:'Liberation Sans',Arial,sans-serif;font-weight:bold;font-size:9.9px" fill="#0a690a" stroke="#0a690a" stroke-width="0.4" textLength="42.35" lengthAdjust="spacingAndGlyphs">PATTERN</text>
<polygon points="422.7,665.4 505.3,665.4 506.5,633.4 511.8,665.4 593.7,665.4 593.7,698.7 422.7,698.7" fill="#bdbdbd"/>
<polygon points="420.7,663.4 503.3,663.4 504.5,631.4 509.8,663.4 591.7,663.4 591.7,696.7 420.7,696.7" fill="#fff" stroke="#666" stroke-width="1"/>
<text x="423" y="677" style="font-family:'Liberation Sans',Arial,sans-serif;font-weight:bold;font-size:9.9px" fill="#0a690a" stroke="#0a690a" stroke-width="0.4" textLength="153.3" lengthAdjust="spacingAndGlyphs">MARCH CAPITULATION BOTTOM</text>
<text x="423" y="690.8" style="font-family:'Liberation Sans',Arial,sans-serif;font-weight:bold;font-size:9.9px" fill="#0a690a" stroke="#0a690a" stroke-width="0.4" textLength="161.6" lengthAdjust="spacingAndGlyphs">ON HUGE VOLUME GREEN ARROWS</text>
<polygon points="354.4,923.2 397,929.5 464.6,929.5 464.6,936.25 509.6,939.6 464.6,942 464.6,948.6 392,948.6 392,935" fill="#bdbdbd"/>
<polygon points="352.4,921.2 395,927.5 462.6,927.5 462.6,934.25 507.6,937.6 462.6,940 462.6,946.6 390,946.6 390,933" fill="#fff" stroke="#666" stroke-width="1"/>
<text x="392.9" y="942.1" style="font-family:'Liberation Sans',Arial,sans-serif;font-weight:bold;font-size:11px" fill="#0a690a" stroke="#0a690a" stroke-width="0.4" textLength="65.2" lengthAdjust="spacingAndGlyphs">BUY SIGINALS</text>
<ellipse cx="335.75" cy="918.5" rx="13.8" ry="13.4" fill="none" stroke="#33cc33" stroke-width="2"/>
<ellipse cx="531.25" cy="930.5" rx="16.8" ry="16.5" fill="none" stroke="#33cc33" stroke-width="2"/>
<ellipse cx="327.5" cy="1018" rx="13.75" ry="10.6" fill="none" stroke="#33cc33" stroke-width="2"/>
<ellipse cx="517.5" cy="1039.5" rx="13.5" ry="13" fill="none" stroke="#33cc33" stroke-width="2"/>
</svg></body></html>
